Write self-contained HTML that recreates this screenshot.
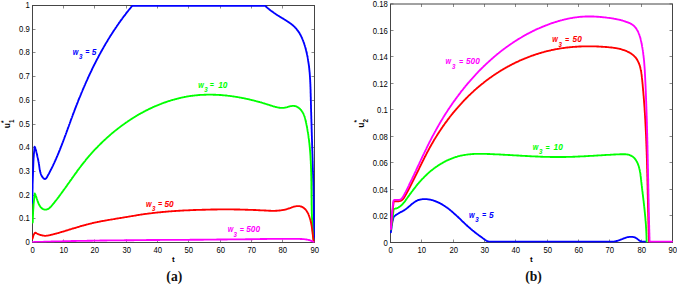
<!DOCTYPE html><html><head><meta charset="utf-8"><style>
html,body{margin:0;padding:0;background:#fff;}
body{width:677px;height:284px;overflow:hidden;}
svg{display:block;}
.tk{font-family:"Liberation Sans",sans-serif;font-size:8.20px;fill:#000;}
.cl{font-family:"Liberation Sans",sans-serif;font-size:7.60px;font-weight:bold;font-style:italic;}
.ax{font-family:"Liberation Sans",sans-serif;font-weight:bold;fill:#000;}
.pl{font-family:"Liberation Serif",serif;font-weight:bold;font-size:13.6px;fill:#111;}
</style></head><body>
<svg width="677" height="284" viewBox="0 0 677 284">
<rect width="677" height="284" fill="#fff"/>
<line x1="32.50" y1="242.50" x2="32.50" y2="239.50" stroke="#8a8a8a" stroke-width="1"/>
<line x1="32.50" y1="5.50" x2="32.50" y2="8.50" stroke="#8a8a8a" stroke-width="1"/>
<text transform="translate(32.70,253.00) scale(0.940,1)" text-anchor="middle" class="tk">0</text>
<line x1="63.50" y1="242.50" x2="63.50" y2="239.50" stroke="#8a8a8a" stroke-width="1"/>
<line x1="63.50" y1="5.50" x2="63.50" y2="8.50" stroke="#8a8a8a" stroke-width="1"/>
<text transform="translate(63.70,253.00) scale(0.940,1)" text-anchor="middle" class="tk">10</text>
<line x1="94.50" y1="242.50" x2="94.50" y2="239.50" stroke="#8a8a8a" stroke-width="1"/>
<line x1="94.50" y1="5.50" x2="94.50" y2="8.50" stroke="#8a8a8a" stroke-width="1"/>
<text transform="translate(94.70,253.00) scale(0.940,1)" text-anchor="middle" class="tk">20</text>
<line x1="126.50" y1="242.50" x2="126.50" y2="239.50" stroke="#8a8a8a" stroke-width="1"/>
<line x1="126.50" y1="5.50" x2="126.50" y2="8.50" stroke="#8a8a8a" stroke-width="1"/>
<text transform="translate(126.70,253.00) scale(0.940,1)" text-anchor="middle" class="tk">30</text>
<line x1="157.50" y1="242.50" x2="157.50" y2="239.50" stroke="#8a8a8a" stroke-width="1"/>
<line x1="157.50" y1="5.50" x2="157.50" y2="8.50" stroke="#8a8a8a" stroke-width="1"/>
<text transform="translate(157.70,253.00) scale(0.940,1)" text-anchor="middle" class="tk">40</text>
<line x1="188.50" y1="242.50" x2="188.50" y2="239.50" stroke="#8a8a8a" stroke-width="1"/>
<line x1="188.50" y1="5.50" x2="188.50" y2="8.50" stroke="#8a8a8a" stroke-width="1"/>
<text transform="translate(188.70,253.00) scale(0.940,1)" text-anchor="middle" class="tk">50</text>
<line x1="220.50" y1="242.50" x2="220.50" y2="239.50" stroke="#8a8a8a" stroke-width="1"/>
<line x1="220.50" y1="5.50" x2="220.50" y2="8.50" stroke="#8a8a8a" stroke-width="1"/>
<text transform="translate(220.70,253.00) scale(0.940,1)" text-anchor="middle" class="tk">60</text>
<line x1="251.50" y1="242.50" x2="251.50" y2="239.50" stroke="#8a8a8a" stroke-width="1"/>
<line x1="251.50" y1="5.50" x2="251.50" y2="8.50" stroke="#8a8a8a" stroke-width="1"/>
<text transform="translate(251.70,253.00) scale(0.940,1)" text-anchor="middle" class="tk">70</text>
<line x1="282.50" y1="242.50" x2="282.50" y2="239.50" stroke="#8a8a8a" stroke-width="1"/>
<line x1="282.50" y1="5.50" x2="282.50" y2="8.50" stroke="#8a8a8a" stroke-width="1"/>
<text transform="translate(282.70,253.00) scale(0.940,1)" text-anchor="middle" class="tk">80</text>
<line x1="314.50" y1="242.50" x2="314.50" y2="239.50" stroke="#8a8a8a" stroke-width="1"/>
<line x1="314.50" y1="5.50" x2="314.50" y2="8.50" stroke="#8a8a8a" stroke-width="1"/>
<text transform="translate(314.70,253.00) scale(0.940,1)" text-anchor="middle" class="tk">90</text>
<line x1="32.50" y1="242.50" x2="35.50" y2="242.50" stroke="#8a8a8a" stroke-width="1"/>
<line x1="314.50" y1="242.50" x2="311.50" y2="242.50" stroke="#8a8a8a" stroke-width="1"/>
<text transform="translate(29.80,244.70) scale(0.940,1)" text-anchor="end" class="tk">0</text>
<line x1="32.50" y1="218.50" x2="35.50" y2="218.50" stroke="#8a8a8a" stroke-width="1"/>
<line x1="314.50" y1="218.50" x2="311.50" y2="218.50" stroke="#8a8a8a" stroke-width="1"/>
<text transform="translate(29.80,220.70) scale(0.940,1)" text-anchor="end" class="tk">0.1</text>
<line x1="32.50" y1="195.50" x2="35.50" y2="195.50" stroke="#8a8a8a" stroke-width="1"/>
<line x1="314.50" y1="195.50" x2="311.50" y2="195.50" stroke="#8a8a8a" stroke-width="1"/>
<text transform="translate(29.80,197.70) scale(0.940,1)" text-anchor="end" class="tk">0.2</text>
<line x1="32.50" y1="171.50" x2="35.50" y2="171.50" stroke="#8a8a8a" stroke-width="1"/>
<line x1="314.50" y1="171.50" x2="311.50" y2="171.50" stroke="#8a8a8a" stroke-width="1"/>
<text transform="translate(29.80,173.70) scale(0.940,1)" text-anchor="end" class="tk">0.3</text>
<line x1="32.50" y1="147.50" x2="35.50" y2="147.50" stroke="#8a8a8a" stroke-width="1"/>
<line x1="314.50" y1="147.50" x2="311.50" y2="147.50" stroke="#8a8a8a" stroke-width="1"/>
<text transform="translate(29.80,149.70) scale(0.940,1)" text-anchor="end" class="tk">0.4</text>
<line x1="32.50" y1="124.50" x2="35.50" y2="124.50" stroke="#8a8a8a" stroke-width="1"/>
<line x1="314.50" y1="124.50" x2="311.50" y2="124.50" stroke="#8a8a8a" stroke-width="1"/>
<text transform="translate(29.80,126.70) scale(0.940,1)" text-anchor="end" class="tk">0.5</text>
<line x1="32.50" y1="100.50" x2="35.50" y2="100.50" stroke="#8a8a8a" stroke-width="1"/>
<line x1="314.50" y1="100.50" x2="311.50" y2="100.50" stroke="#8a8a8a" stroke-width="1"/>
<text transform="translate(29.80,102.70) scale(0.940,1)" text-anchor="end" class="tk">0.6</text>
<line x1="32.50" y1="76.50" x2="35.50" y2="76.50" stroke="#8a8a8a" stroke-width="1"/>
<line x1="314.50" y1="76.50" x2="311.50" y2="76.50" stroke="#8a8a8a" stroke-width="1"/>
<text transform="translate(29.80,78.70) scale(0.940,1)" text-anchor="end" class="tk">0.7</text>
<line x1="32.50" y1="52.50" x2="35.50" y2="52.50" stroke="#8a8a8a" stroke-width="1"/>
<line x1="314.50" y1="52.50" x2="311.50" y2="52.50" stroke="#8a8a8a" stroke-width="1"/>
<text transform="translate(29.80,54.70) scale(0.940,1)" text-anchor="end" class="tk">0.8</text>
<line x1="32.50" y1="29.50" x2="35.50" y2="29.50" stroke="#8a8a8a" stroke-width="1"/>
<line x1="314.50" y1="29.50" x2="311.50" y2="29.50" stroke="#8a8a8a" stroke-width="1"/>
<text transform="translate(29.80,31.70) scale(0.940,1)" text-anchor="end" class="tk">0.9</text>
<line x1="32.50" y1="5.50" x2="35.50" y2="5.50" stroke="#8a8a8a" stroke-width="1"/>
<line x1="314.50" y1="5.50" x2="311.50" y2="5.50" stroke="#8a8a8a" stroke-width="1"/>
<text transform="translate(29.80,7.70) scale(0.940,1)" text-anchor="end" class="tk">1</text>
<line x1="32.50" y1="5.50" x2="32.50" y2="243.00" stroke="#454545" stroke-width="1"/>
<line x1="314.50" y1="5.50" x2="314.50" y2="243.00" stroke="#454545" stroke-width="1"/>
<line x1="32.00" y1="5.50" x2="315.00" y2="5.50" stroke="#454545" stroke-width="1"/>
<line x1="32.00" y1="242.50" x2="315.00" y2="242.50" stroke="#454545" stroke-width="1"/>
<line x1="390.50" y1="242.50" x2="390.50" y2="239.50" stroke="#8a8a8a" stroke-width="1"/>
<line x1="390.50" y1="4.00" x2="390.50" y2="7.00" stroke="#8a8a8a" stroke-width="1"/>
<text transform="translate(390.70,253.00) scale(0.940,1)" text-anchor="middle" class="tk">0</text>
<line x1="421.50" y1="242.50" x2="421.50" y2="239.50" stroke="#8a8a8a" stroke-width="1"/>
<line x1="421.50" y1="4.00" x2="421.50" y2="7.00" stroke="#8a8a8a" stroke-width="1"/>
<text transform="translate(421.70,253.00) scale(0.940,1)" text-anchor="middle" class="tk">10</text>
<line x1="453.50" y1="242.50" x2="453.50" y2="239.50" stroke="#8a8a8a" stroke-width="1"/>
<line x1="453.50" y1="4.00" x2="453.50" y2="7.00" stroke="#8a8a8a" stroke-width="1"/>
<text transform="translate(453.70,253.00) scale(0.940,1)" text-anchor="middle" class="tk">20</text>
<line x1="484.50" y1="242.50" x2="484.50" y2="239.50" stroke="#8a8a8a" stroke-width="1"/>
<line x1="484.50" y1="4.00" x2="484.50" y2="7.00" stroke="#8a8a8a" stroke-width="1"/>
<text transform="translate(484.70,253.00) scale(0.940,1)" text-anchor="middle" class="tk">30</text>
<line x1="515.50" y1="242.50" x2="515.50" y2="239.50" stroke="#8a8a8a" stroke-width="1"/>
<line x1="515.50" y1="4.00" x2="515.50" y2="7.00" stroke="#8a8a8a" stroke-width="1"/>
<text transform="translate(515.70,253.00) scale(0.940,1)" text-anchor="middle" class="tk">40</text>
<line x1="547.50" y1="242.50" x2="547.50" y2="239.50" stroke="#8a8a8a" stroke-width="1"/>
<line x1="547.50" y1="4.00" x2="547.50" y2="7.00" stroke="#8a8a8a" stroke-width="1"/>
<text transform="translate(547.70,253.00) scale(0.940,1)" text-anchor="middle" class="tk">50</text>
<line x1="578.50" y1="242.50" x2="578.50" y2="239.50" stroke="#8a8a8a" stroke-width="1"/>
<line x1="578.50" y1="4.00" x2="578.50" y2="7.00" stroke="#8a8a8a" stroke-width="1"/>
<text transform="translate(578.70,253.00) scale(0.940,1)" text-anchor="middle" class="tk">60</text>
<line x1="609.50" y1="242.50" x2="609.50" y2="239.50" stroke="#8a8a8a" stroke-width="1"/>
<line x1="609.50" y1="4.00" x2="609.50" y2="7.00" stroke="#8a8a8a" stroke-width="1"/>
<text transform="translate(609.70,253.00) scale(0.940,1)" text-anchor="middle" class="tk">70</text>
<line x1="641.50" y1="242.50" x2="641.50" y2="239.50" stroke="#8a8a8a" stroke-width="1"/>
<line x1="641.50" y1="4.00" x2="641.50" y2="7.00" stroke="#8a8a8a" stroke-width="1"/>
<text transform="translate(641.70,253.00) scale(0.940,1)" text-anchor="middle" class="tk">80</text>
<line x1="672.50" y1="242.50" x2="672.50" y2="239.50" stroke="#8a8a8a" stroke-width="1"/>
<line x1="672.50" y1="4.00" x2="672.50" y2="7.00" stroke="#8a8a8a" stroke-width="1"/>
<text transform="translate(672.70,253.00) scale(0.940,1)" text-anchor="middle" class="tk">90</text>
<line x1="390.50" y1="242.50" x2="393.50" y2="242.50" stroke="#8a8a8a" stroke-width="1"/>
<line x1="672.50" y1="242.50" x2="669.50" y2="242.50" stroke="#8a8a8a" stroke-width="1"/>
<text transform="translate(387.80,245.50) scale(0.940,1)" text-anchor="end" class="tk">0</text>
<line x1="390.50" y1="215.50" x2="393.50" y2="215.50" stroke="#8a8a8a" stroke-width="1"/>
<line x1="672.50" y1="215.50" x2="669.50" y2="215.50" stroke="#8a8a8a" stroke-width="1"/>
<text transform="translate(387.80,218.50) scale(0.940,1)" text-anchor="end" class="tk">0.02</text>
<line x1="390.50" y1="189.50" x2="393.50" y2="189.50" stroke="#8a8a8a" stroke-width="1"/>
<line x1="672.50" y1="189.50" x2="669.50" y2="189.50" stroke="#8a8a8a" stroke-width="1"/>
<text transform="translate(387.80,192.50) scale(0.940,1)" text-anchor="end" class="tk">0.04</text>
<line x1="390.50" y1="162.50" x2="393.50" y2="162.50" stroke="#8a8a8a" stroke-width="1"/>
<line x1="672.50" y1="162.50" x2="669.50" y2="162.50" stroke="#8a8a8a" stroke-width="1"/>
<text transform="translate(387.80,165.50) scale(0.940,1)" text-anchor="end" class="tk">0.06</text>
<line x1="390.50" y1="136.50" x2="393.50" y2="136.50" stroke="#8a8a8a" stroke-width="1"/>
<line x1="672.50" y1="136.50" x2="669.50" y2="136.50" stroke="#8a8a8a" stroke-width="1"/>
<text transform="translate(387.80,139.50) scale(0.940,1)" text-anchor="end" class="tk">0.08</text>
<line x1="390.50" y1="109.50" x2="393.50" y2="109.50" stroke="#8a8a8a" stroke-width="1"/>
<line x1="672.50" y1="109.50" x2="669.50" y2="109.50" stroke="#8a8a8a" stroke-width="1"/>
<text transform="translate(387.80,112.50) scale(0.940,1)" text-anchor="end" class="tk">0.1</text>
<line x1="390.50" y1="83.50" x2="393.50" y2="83.50" stroke="#8a8a8a" stroke-width="1"/>
<line x1="672.50" y1="83.50" x2="669.50" y2="83.50" stroke="#8a8a8a" stroke-width="1"/>
<text transform="translate(387.80,86.50) scale(0.940,1)" text-anchor="end" class="tk">0.12</text>
<line x1="390.50" y1="56.50" x2="393.50" y2="56.50" stroke="#8a8a8a" stroke-width="1"/>
<line x1="672.50" y1="56.50" x2="669.50" y2="56.50" stroke="#8a8a8a" stroke-width="1"/>
<text transform="translate(387.80,59.50) scale(0.940,1)" text-anchor="end" class="tk">0.14</text>
<line x1="390.50" y1="30.50" x2="393.50" y2="30.50" stroke="#8a8a8a" stroke-width="1"/>
<line x1="672.50" y1="30.50" x2="669.50" y2="30.50" stroke="#8a8a8a" stroke-width="1"/>
<text transform="translate(387.80,33.50) scale(0.940,1)" text-anchor="end" class="tk">0.16</text>
<line x1="390.50" y1="3.90" x2="393.50" y2="3.90" stroke="#8a8a8a" stroke-width="1"/>
<line x1="672.50" y1="3.90" x2="669.50" y2="3.90" stroke="#8a8a8a" stroke-width="1"/>
<text transform="translate(387.80,6.90) scale(0.940,1)" text-anchor="end" class="tk">0.18</text>
<line x1="390.50" y1="4.00" x2="390.50" y2="243.00" stroke="#454545" stroke-width="1"/>
<line x1="672.50" y1="4.00" x2="672.50" y2="243.00" stroke="#454545" stroke-width="1"/>
<line x1="390.00" y1="4.00" x2="673.00" y2="4.00" stroke="#454545" stroke-width="1"/>
<line x1="390.00" y1="242.50" x2="673.00" y2="242.50" stroke="#454545" stroke-width="1"/>
<defs><clipPath id="cl"><rect x="32" y="5" width="283" height="237.5"/></clipPath><clipPath id="cr"><rect x="390" y="4" width="283" height="238.5"/></clipPath></defs>
<g clip-path="url(#cl)">
<path d="M32.3,203.0 L32.3,201.4 L32.4,199.2 L32.4,196.7 L32.5,193.9 L32.5,190.9 L32.6,187.8 L32.6,184.8 L32.7,182.0 L32.8,179.2 L32.9,176.4 L33.0,173.4 L33.1,170.5 L33.2,167.7 L33.3,164.9 L33.4,162.3 L33.5,160.0 L33.6,157.8 L33.8,155.7 L33.9,153.8 L34.1,151.9 L34.3,150.3 L34.4,148.8 L34.5,147.6 L34.6,146.6 L34.9,147.2 L35.2,147.8 L35.4,148.4 L35.6,149.1 L35.8,149.7 L36.0,150.4 L36.2,151.0 L36.3,151.7 L36.5,152.3 L36.6,153.0 L36.8,153.6 L36.9,154.3 L37.1,154.9 L37.2,155.5 L37.3,156.2 L37.5,156.8 L37.6,157.4 L37.8,158.1 L37.9,158.7 L38.0,159.3 L38.2,159.9 L38.3,160.6 L38.4,161.2 L38.6,161.9 L38.7,162.5 L38.8,163.2 L38.9,163.9 L39.0,164.5 L39.1,165.2 L39.2,165.9 L39.3,166.7 L39.4,167.4 L39.5,168.1 L39.6,168.9 L39.7,169.6 L39.9,170.4 L40.0,171.1 L40.2,171.8 L40.4,172.6 L40.6,173.3 L40.8,174.0 L41.1,174.7 L41.4,175.3 L41.7,176.0 L42.1,176.6 L42.5,177.2 L42.9,177.7 L43.4,178.2 L43.9,178.6 L44.4,178.9 L44.9,179.0 L45.4,178.9 L45.8,178.7 L46.1,178.4 L46.5,177.9 L46.8,177.3 L47.2,176.8 L47.5,176.2 L47.8,175.6 L48.1,175.0 L48.4,174.5 L48.8,173.9 L49.1,173.3 L49.4,172.7 L49.7,172.1 L50.0,171.5 L50.3,170.9 L50.6,170.3 L50.9,169.8 L51.2,169.2 L51.5,168.6 L51.8,168.0 L52.1,167.4 L52.4,166.8 L52.7,166.2 L53.0,165.6 L53.2,165.0 L53.5,164.4 L53.8,163.8 L54.1,163.2 L54.4,162.6 L54.6,162.0 L54.9,161.4 L55.2,160.8 L55.5,160.2 L55.7,159.6 L56.0,159.0 L56.3,158.3 L56.5,157.7 L56.8,157.1 L57.1,156.5 L57.3,155.9 L57.6,155.3 L57.8,154.7 L58.1,154.1 L58.4,153.5 L58.6,152.8 L58.9,152.2 L59.1,151.6 L59.4,151.0 L59.6,150.4 L59.9,149.8 L60.1,149.1 L60.4,148.5 L60.6,147.9 L60.8,147.3 L61.1,146.7 L61.3,146.0 L61.6,145.4 L61.8,144.8 L62.1,144.2 L62.3,143.5 L62.5,142.9 L62.8,142.3 L63.0,141.7 L63.2,141.1 L63.5,140.4 L63.7,139.8 L63.9,139.2 L64.2,138.6 L64.4,137.9 L64.6,137.3 L64.9,136.7 L65.1,136.0 L65.3,135.4 L65.6,134.8 L65.8,134.2 L66.0,133.5 L66.3,132.9 L66.5,132.3 L66.7,131.6 L67.0,131.0 L67.2,130.4 L67.4,129.8 L67.6,129.1 L67.9,128.5 L68.1,127.9 L68.3,127.2 L68.6,126.6 L68.8,126.0 L69.0,125.3 L69.2,124.7 L69.5,124.1 L69.7,123.5 L69.9,122.8 L70.2,122.2 L70.4,121.6 L70.6,120.9 L70.8,120.3 L71.1,119.7 L71.3,119.0 L71.5,118.4 L71.8,117.8 L72.0,117.2 L72.2,116.5 L72.5,115.9 L72.7,115.3 L72.9,114.6 L73.2,114.0 L73.4,113.4 L73.6,112.8 L73.9,112.1 L74.1,111.5 L74.4,110.9 L74.6,110.2 L74.8,109.6 L75.1,109.0 L75.3,108.4 L75.6,107.7 L75.8,107.1 L76.0,106.5 L76.3,105.9 L76.5,105.2 L76.8,104.6 L77.0,104.0 L77.3,103.4 L77.5,102.7 L77.8,102.1 L78.0,101.5 L78.2,100.9 L78.5,100.2 L78.7,99.6 L79.0,99.0 L79.2,98.4 L79.5,97.7 L79.8,97.1 L80.0,96.5 L80.3,95.9 L80.5,95.3 L80.8,94.6 L81.0,94.0 L81.3,93.4 L81.5,92.8 L81.8,92.2 L82.1,91.5 L82.3,90.9 L82.6,90.3 L82.8,89.7 L83.1,89.1 L83.4,88.5 L83.6,87.8 L83.9,87.2 L84.2,86.6 L84.4,86.0 L84.7,85.4 L85.0,84.8 L85.2,84.2 L85.5,83.5 L85.8,82.9 L86.0,82.3 L86.3,81.7 L86.6,81.1 L86.9,80.5 L87.1,79.9 L87.4,79.3 L87.7,78.6 L88.0,78.0 L88.2,77.4 L88.5,76.8 L88.8,76.2 L89.1,75.6 L89.4,75.0 L89.6,74.4 L89.9,73.8 L90.2,73.2 L90.5,72.6 L90.8,72.0 L91.1,71.4 L91.4,70.8 L91.7,70.2 L91.9,69.6 L92.2,69.0 L92.5,68.3 L92.8,67.7 L93.1,67.1 L93.4,66.5 L93.7,65.9 L94.0,65.3 L94.3,64.8 L94.6,64.2 L94.9,63.6 L95.2,63.0 L95.5,62.4 L95.8,61.8 L96.1,61.2 L96.4,60.6 L96.7,60.0 L97.0,59.4 L97.3,58.8 L97.7,58.2 L98.0,57.6 L98.3,57.0 L98.6,56.4 L98.9,55.8 L99.2,55.3 L99.5,54.7 L99.8,54.1 L100.2,53.5 L100.5,52.9 L100.8,52.3 L101.1,51.7 L101.5,51.2 L101.8,50.6 L102.1,50.0 L102.4,49.4 L102.8,48.8 L103.1,48.2 L103.4,47.7 L103.7,47.1 L104.1,46.5 L104.4,45.9 L104.7,45.3 L105.1,44.8 L105.4,44.2 L105.7,43.6 L106.1,43.0 L106.4,42.5 L106.8,41.9 L107.1,41.3 L107.5,40.8 L107.8,40.2 L108.1,39.6 L108.5,39.0 L108.8,38.5 L109.2,37.9 L109.5,37.3 L109.9,36.8 L110.2,36.2 L110.6,35.6 L111.0,35.1 L111.3,34.5 L111.7,33.9 L112.0,33.4 L112.4,32.8 L112.8,32.3 L113.1,31.7 L113.5,31.1 L113.9,30.6 L114.2,30.0 L114.6,29.5 L115.0,28.9 L115.3,28.4 L115.7,27.8 L116.1,27.3 L116.5,26.7 L116.8,26.2 L117.2,25.6 L117.6,25.1 L118.0,24.5 L118.4,24.0 L118.7,23.4 L119.1,22.9 L119.5,22.3 L119.9,21.8 L120.3,21.2 L120.7,20.7 L121.1,20.2 L121.5,19.6 L121.9,19.1 L122.3,18.5 L122.6,18.0 L123.0,17.5 L123.4,16.9 L123.8,16.4 L124.3,15.9 L124.7,15.3 L125.1,14.8 L125.5,14.3 L125.9,13.7 L126.3,13.2 L126.7,12.7 L127.1,12.1 L127.5,11.6 L127.9,11.1 L128.4,10.6 L128.8,10.0 L129.2,9.5 L129.6,9.0 L130.1,8.5 L130.5,8.0 L130.9,7.4 L131.3,6.9 L131.8,6.4 L132.2,5.9 L265.2,5.9 L265.7,6.3 L266.2,6.8 L266.7,7.2 L267.2,7.7 L267.7,8.1 L268.2,8.5 L268.7,8.9 L269.2,9.3 L269.7,9.8 L270.3,10.2 L270.8,10.6 L271.3,11.0 L271.9,11.3 L272.4,11.7 L272.9,12.1 L273.5,12.5 L274.0,12.9 L274.6,13.3 L275.1,13.6 L275.7,14.0 L276.2,14.4 L276.8,14.8 L277.4,15.1 L277.9,15.5 L278.5,15.8 L279.1,16.2 L279.7,16.6 L280.2,16.9 L280.8,17.3 L281.4,17.7 L282.0,18.0 L282.6,18.4 L283.2,18.7 L283.8,19.1 L284.4,19.5 L284.9,19.8 L285.5,20.2 L286.1,20.5 L286.7,20.9 L287.3,21.3 L287.9,21.7 L288.4,22.1 L289.0,22.4 L289.6,22.8 L290.1,23.2 L290.7,23.6 L291.2,24.0 L291.8,24.5 L292.3,24.9 L292.8,25.3 L293.3,25.7 L293.8,26.2 L294.3,26.6 L294.8,27.1 L295.2,27.6 L295.7,28.1 L296.1,28.5 L296.5,29.0 L296.9,29.6 L297.3,30.1 L297.7,30.6 L298.1,31.1 L298.5,31.7 L298.8,32.2 L299.2,32.7 L299.5,33.3 L299.9,33.9 L300.2,34.4 L300.5,35.0 L300.8,35.6 L301.1,36.2 L301.4,36.8 L301.7,37.4 L302.0,38.0 L302.2,38.6 L302.5,39.2 L302.7,39.8 L303.0,40.4 L303.2,41.0 L303.4,41.6 L303.7,42.3 L303.9,42.9 L304.1,43.5 L304.3,44.1 L304.5,44.8 L304.7,45.4 L304.9,46.0 L305.1,46.7 L305.3,47.3 L305.5,48.0 L305.6,48.6 L305.8,49.2 L306.0,49.9 L306.1,50.5 L306.3,51.2 L306.4,51.8 L306.6,52.5 L306.7,53.1 L306.9,53.8 L307.0,54.4 L307.2,55.1 L307.3,55.7 L307.4,56.4 L307.6,57.0 L307.7,57.7 L307.8,58.3 L307.9,59.0 L308.0,59.6 L308.1,60.3 L308.2,61.0 L308.3,61.6 L308.4,62.3 L308.5,62.9 L308.6,63.6 L308.7,64.2 L308.8,64.9 L308.9,65.6 L309.0,66.2 L309.1,66.9 L309.1,67.6 L309.2,68.2 L309.3,68.9 L309.3,69.5 L309.4,70.2 L309.5,70.9 L309.5,71.5 L309.6,72.2 L309.7,72.9 L309.7,73.5 L309.8,74.2 L309.8,74.9 L309.9,75.6 L309.9,76.2 L310.0,76.9 L310.0,77.6 L310.0,78.2 L310.1,78.9 L310.1,79.6 L310.2,80.2 L310.2,80.9 L310.2,81.6 L310.3,82.3 L310.3,82.9 L310.3,83.6 L310.4,84.3 L310.4,85.0 L310.4,85.6 L310.4,86.3 L310.5,87.0 L310.5,87.6 L310.5,88.3 L310.5,89.0 L310.6,89.7 L310.6,90.3 L310.6,91.0 L310.6,91.7 L310.6,92.4 L310.6,93.0 L310.7,93.7 L310.7,94.4 L310.7,95.1 L310.7,95.7 L310.7,96.4 L310.8,97.1 L310.8,97.8 L310.8,98.4 L310.8,99.1 L310.8,99.8 L310.8,100.5 L310.9,101.1 L310.9,101.8 L310.9,102.5 L310.9,103.1 L310.9,103.8 L310.9,104.5 L311.0,105.2 L311.0,105.8 L311.0,106.5 L311.0,107.2 L311.0,107.8 L311.0,108.5 L311.1,109.2 L311.1,109.9 L311.1,110.5 L311.1,111.2 L311.1,111.9 L311.2,112.5 L311.2,113.2 L311.2,113.9 L311.2,114.6 L311.2,115.2 L311.3,115.9 L311.3,116.6 L311.3,117.2 L311.3,117.9 L311.3,118.6 L311.4,119.3 L311.4,119.9 L311.4,120.6 L311.4,121.3 L311.4,121.9 L311.5,122.6 L311.5,123.3 L311.5,123.9 L311.5,124.6 L311.5,125.3 L311.6,125.9 L311.6,126.6 L311.6,127.3 L311.6,128.0 L311.6,128.6 L311.7,129.3 L311.7,130.0 L311.7,130.6 L311.7,131.3 L311.7,132.0 L311.8,132.6 L311.8,133.3 L311.8,134.0 L311.8,134.6 L311.8,135.3 L311.9,136.0 L311.9,136.6 L311.9,137.3 L311.9,138.0 L311.9,138.6 L312.0,139.3 L312.0,140.0 L312.0,140.6 L312.0,141.3 L312.1,142.0 L312.1,142.6 L312.1,143.3 L312.1,144.0 L312.1,144.6 L312.2,145.3 L312.2,146.0 L312.2,146.6 L312.2,147.3 L312.2,148.0 L312.3,148.6 L312.3,149.3 L312.3,150.0 L312.3,150.6 L312.4,151.3 L312.4,152.0 L312.4,152.6 L312.4,153.3 L312.4,154.0 L312.5,154.6 L312.5,155.3 L312.5,156.0 L312.5,156.6 L312.5,157.3 L312.6,158.0 L312.6,158.6 L312.6,159.3 L312.6,160.0 L312.6,160.6 L312.7,161.3 L312.7,162.0 L312.7,162.6 L312.7,163.3 L312.7,164.0 L312.8,164.6 L312.8,165.3 L312.8,166.0 L312.8,166.6 L312.8,167.3 L312.9,168.0 L312.9,168.6 L312.9,169.3 L312.9,170.0 L312.9,170.6 L313.0,171.3 L313.0,172.0 L313.0,172.6 L313.0,173.3 L313.0,174.0 L313.1,174.6 L313.1,175.3 L313.1,175.9 L313.1,176.6 L313.1,177.3 L313.1,177.9 L313.2,178.6 L313.2,179.3 L313.2,179.9 L313.2,180.6 L313.2,181.3 L313.3,181.9 L313.3,182.6 L313.3,183.3 L313.3,183.9 L313.3,184.6 L313.3,185.3 L313.4,185.9 L313.4,186.6 L313.4,187.3 L313.4,187.9 L313.4,188.6 L313.4,189.3 L313.4,189.9 L313.5,190.6 L313.5,191.3 L313.5,191.9 L313.5,192.6 L313.5,193.3 L313.5,193.9 L313.6,194.6 L313.6,195.3 L313.6,195.9 L313.6,196.6 L313.6,197.3 L313.6,197.9 L313.6,198.6 L313.6,199.3 L313.7,199.9 L313.7,200.6 L313.7,201.3 L313.7,201.9 L313.7,202.6 L313.7,203.3 L313.7,203.9 L313.7,204.6 L313.8,205.3 L313.8,206.0 L313.8,206.6 L313.8,207.3 L313.8,208.0 L313.8,208.6 L313.8,209.3 L313.8,210.0 L313.8,210.6 L313.9,211.3 L313.9,212.0 L313.9,212.6 L313.9,213.3 L313.9,214.0 L313.9,214.6 L313.9,215.3 L313.9,216.0 L313.9,216.6 L313.9,217.3 L313.9,218.0 L313.9,218.7 L313.9,219.3 L314.0,220.0 L314.0,220.7 L314.0,221.3 L314.0,222.0 L314.0,222.7 L314.0,223.3 L314.0,224.0 L314.0,224.7 L314.0,225.4 L314.0,226.0 L314.0,226.7 L314.0,227.4 L314.0,228.0 L314.0,228.7 L314.0,229.4 L314.0,230.1 L314.0,230.7 L314.0,231.4 L314.0,232.1 L314.0,232.7 L314.0,233.4 L314.0,234.1 L314.0,234.8 L314.0,235.4 L314.0,236.1 L314.0,236.8 L314.0,237.5 L314.0,238.1 L314.0,238.8 L314.0,239.5 L314.0,240.2 L314.0,240.8 L314.0,241.5" fill="none" stroke="#0000ff" stroke-width="1.85" stroke-linejoin="round" stroke-linecap="round"/>
<path d="M32.7,222.5 L32.8,221.2 L32.8,219.4 L32.9,217.3 L33.0,215.0 L33.1,212.6 L33.2,210.2 L33.4,208.0 L33.5,206.0 L33.6,204.2 L33.8,202.3 L34.0,200.4 L34.2,198.7 L34.4,197.0 L34.6,195.6 L34.7,194.3 L34.8,193.4 L35.0,193.9 L35.3,194.4 L35.5,194.9 L35.7,195.5 L35.9,196.1 L36.2,196.7 L36.4,197.4 L36.6,198.1 L36.8,198.8 L37.1,199.5 L37.3,200.2 L37.6,201.0 L37.8,201.7 L38.1,202.4 L38.4,203.1 L38.7,203.8 L39.0,204.5 L39.3,205.1 L39.7,205.7 L40.1,206.3 L40.4,206.9 L40.9,207.4 L41.3,207.8 L41.8,208.2 L42.2,208.6 L42.7,208.9 L43.3,209.2 L43.8,209.4 L44.3,209.5 L44.9,209.6 L45.4,209.6 L45.9,209.6 L46.5,209.5 L47.0,209.4 L47.5,209.2 L48.1,209.0 L48.6,208.7 L49.1,208.3 L49.6,207.9 L50.0,207.5 L50.5,207.0 L51.0,206.6 L51.4,206.1 L51.9,205.5 L52.3,205.0 L52.8,204.4 L53.2,203.9 L53.7,203.4 L54.1,202.8 L54.5,202.3 L55.0,201.7 L55.4,201.2 L55.8,200.6 L56.3,200.1 L56.7,199.5 L57.1,199.0 L57.5,198.4 L58.0,197.9 L58.4,197.3 L58.8,196.8 L59.2,196.2 L59.6,195.7 L60.0,195.1 L60.4,194.6 L60.8,194.0 L61.2,193.5 L61.6,192.9 L62.0,192.4 L62.4,191.8 L62.8,191.3 L63.2,190.7 L63.6,190.2 L64.0,189.6 L64.4,189.1 L64.8,188.5 L65.2,188.0 L65.6,187.4 L66.0,186.9 L66.4,186.3 L66.8,185.8 L67.1,185.3 L67.5,184.7 L67.9,184.2 L68.3,183.6 L68.7,183.1 L69.1,182.5 L69.5,182.0 L69.8,181.4 L70.2,180.9 L70.6,180.4 L71.0,179.8 L71.4,179.3 L71.8,178.7 L72.1,178.2 L72.5,177.7 L72.9,177.1 L73.3,176.6 L73.7,176.0 L74.1,175.5 L74.4,175.0 L74.8,174.4 L75.2,173.9 L75.6,173.4 L76.0,172.8 L76.4,172.3 L76.8,171.8 L77.1,171.2 L77.5,170.7 L77.9,170.2 L78.3,169.6 L78.7,169.1 L79.1,168.6 L79.5,168.0 L79.9,167.5 L80.3,167.0 L80.7,166.5 L81.1,165.9 L81.5,165.4 L81.9,164.9 L82.3,164.4 L82.7,163.9 L83.1,163.3 L83.5,162.8 L83.9,162.3 L84.3,161.8 L84.8,161.3 L85.2,160.8 L85.6,160.2 L86.0,159.7 L86.4,159.2 L86.9,158.7 L87.3,158.2 L87.7,157.7 L88.1,157.2 L88.6,156.7 L89.0,156.2 L89.4,155.7 L89.9,155.2 L90.3,154.7 L90.8,154.2 L91.2,153.7 L91.6,153.2 L92.1,152.7 L92.5,152.2 L93.0,151.7 L93.4,151.2 L93.9,150.7 L94.3,150.2 L94.8,149.7 L95.3,149.2 L95.7,148.7 L96.2,148.3 L96.6,147.8 L97.1,147.3 L97.6,146.8 L98.0,146.3 L98.5,145.8 L99.0,145.4 L99.5,144.9 L99.9,144.4 L100.4,144.0 L100.9,143.5 L101.4,143.0 L101.9,142.5 L102.3,142.1 L102.8,141.6 L103.3,141.1 L103.8,140.7 L104.3,140.2 L104.8,139.8 L105.3,139.3 L105.8,138.9 L106.3,138.4 L106.8,137.9 L107.3,137.5 L107.8,137.0 L108.3,136.6 L108.8,136.2 L109.3,135.7 L109.8,135.3 L110.3,134.8 L110.8,134.4 L111.3,133.9 L111.8,133.5 L112.4,133.1 L112.9,132.6 L113.4,132.2 L113.9,131.8 L114.4,131.4 L115.0,130.9 L115.5,130.5 L116.0,130.1 L116.5,129.7 L117.1,129.3 L117.6,128.8 L118.1,128.4 L118.7,128.0 L119.2,127.6 L119.7,127.2 L120.3,126.8 L120.8,126.4 L121.3,126.0 L121.9,125.6 L122.4,125.2 L123.0,124.8 L123.5,124.4 L124.1,124.0 L124.6,123.6 L125.2,123.2 L125.7,122.8 L126.3,122.4 L126.8,122.1 L127.4,121.7 L127.9,121.3 L128.5,120.9 L129.0,120.6 L129.6,120.2 L130.2,119.8 L130.7,119.4 L131.3,119.1 L131.9,118.7 L132.4,118.4 L133.0,118.0 L133.6,117.6 L134.1,117.3 L134.7,116.9 L135.3,116.6 L135.9,116.2 L136.4,115.9 L137.0,115.5 L137.6,115.2 L138.2,114.9 L138.7,114.5 L139.3,114.2 L139.9,113.9 L140.5,113.5 L141.1,113.2 L141.7,112.9 L142.2,112.6 L142.8,112.3 L143.4,111.9 L144.0,111.6 L144.6,111.3 L145.2,111.0 L145.8,110.7 L146.4,110.4 L147.0,110.1 L147.6,109.8 L148.2,109.5 L148.8,109.2 L149.4,108.9 L150.0,108.6 L150.6,108.3 L151.2,108.0 L151.8,107.8 L152.4,107.5 L153.0,107.2 L153.6,106.9 L154.2,106.7 L154.8,106.4 L155.4,106.1 L156.0,105.9 L156.7,105.6 L157.3,105.3 L157.9,105.1 L158.5,104.8 L159.1,104.6 L159.7,104.3 L160.4,104.1 L161.0,103.9 L161.6,103.6 L162.2,103.4 L162.8,103.2 L163.5,102.9 L164.1,102.7 L164.7,102.5 L165.3,102.3 L166.0,102.0 L166.6,101.8 L167.2,101.6 L167.8,101.4 L168.5,101.2 L169.1,101.0 L169.7,100.8 L170.4,100.6 L171.0,100.4 L171.6,100.2 L172.3,100.0 L172.9,99.8 L173.5,99.7 L174.2,99.5 L174.8,99.3 L175.5,99.1 L176.1,99.0 L176.7,98.8 L177.4,98.6 L178.0,98.5 L178.7,98.3 L179.3,98.1 L179.9,98.0 L180.6,97.8 L181.2,97.7 L181.9,97.6 L182.5,97.4 L183.2,97.3 L183.8,97.2 L184.5,97.0 L185.1,96.9 L185.8,96.8 L186.4,96.7 L187.1,96.5 L187.7,96.4 L188.4,96.3 L189.0,96.2 L189.7,96.1 L190.3,96.0 L191.0,95.9 L191.7,95.8 L192.3,95.7 L193.0,95.7 L193.6,95.6 L194.3,95.5 L194.9,95.4 L195.6,95.3 L196.3,95.3 L196.9,95.2 L197.6,95.2 L198.2,95.1 L198.9,95.0 L199.6,95.0 L200.2,94.9 L200.9,94.9 L201.6,94.9 L202.2,94.8 L202.9,94.8 L203.6,94.8 L204.2,94.7 L204.9,94.7 L205.6,94.7 L206.2,94.7 L206.9,94.6 L207.6,94.6 L208.2,94.6 L208.9,94.6 L209.6,94.6 L210.2,94.6 L210.9,94.6 L211.6,94.6 L212.2,94.6 L212.9,94.7 L213.6,94.7 L214.2,94.7 L214.9,94.7 L215.6,94.7 L216.2,94.8 L216.9,94.8 L217.6,94.8 L218.3,94.9 L218.9,94.9 L219.6,95.0 L220.3,95.0 L220.9,95.0 L221.6,95.1 L222.3,95.2 L223.0,95.2 L223.6,95.3 L224.3,95.3 L225.0,95.4 L225.6,95.5 L226.3,95.5 L227.0,95.6 L227.6,95.7 L228.3,95.8 L229.0,95.8 L229.7,95.9 L230.3,96.0 L231.0,96.1 L231.7,96.2 L232.3,96.3 L233.0,96.4 L233.7,96.5 L234.3,96.6 L235.0,96.7 L235.7,96.8 L236.3,96.9 L237.0,97.0 L237.7,97.1 L238.3,97.2 L239.0,97.3 L239.7,97.5 L240.3,97.6 L241.0,97.7 L241.7,97.8 L242.3,98.0 L243.0,98.1 L243.6,98.2 L244.3,98.4 L245.0,98.5 L245.6,98.6 L246.3,98.8 L247.0,98.9 L247.6,99.1 L248.3,99.2 L248.9,99.4 L249.6,99.5 L250.2,99.7 L250.9,99.8 L251.6,100.0 L252.2,100.1 L252.9,100.3 L253.5,100.4 L254.2,100.6 L254.8,100.8 L255.5,100.9 L256.1,101.1 L256.8,101.3 L257.4,101.5 L258.1,101.6 L258.7,101.8 L259.4,102.0 L260.0,102.2 L260.7,102.4 L261.3,102.5 L261.9,102.7 L262.6,102.9 L263.2,103.1 L263.9,103.3 L264.5,103.5 L265.1,103.7 L265.8,103.9 L266.4,104.1 L267.1,104.3 L267.7,104.5 L268.3,104.7 L269.0,104.9 L269.6,105.1 L270.2,105.3 L270.8,105.5 L271.5,105.7 L272.1,105.9 L272.7,106.1 L273.4,106.3 L274.0,106.5 L274.6,106.7 L275.2,106.8 L275.9,107.0 L276.5,107.2 L277.1,107.3 L277.7,107.4 L278.4,107.6 L279.0,107.7 L279.6,107.7 L280.3,107.8 L280.9,107.9 L281.5,107.9 L282.1,107.9 L282.8,107.9 L283.4,107.9 L284.1,107.8 L284.7,107.7 L285.3,107.6 L286.0,107.4 L286.6,107.3 L287.3,107.1 L287.9,106.9 L288.6,106.7 L289.2,106.5 L289.8,106.4 L290.5,106.2 L291.1,106.1 L291.8,106.0 L292.4,105.9 L293.0,105.9 L293.7,105.9 L294.3,106.0 L294.9,106.1 L295.5,106.2 L296.1,106.4 L296.7,106.7 L297.3,107.0 L297.9,107.3 L298.4,107.6 L298.9,108.0 L299.5,108.5 L300.0,108.9 L300.4,109.4 L300.9,109.9 L301.3,110.4 L301.7,111.0 L302.1,111.6 L302.5,112.1 L302.8,112.7 L303.2,113.3 L303.5,113.9 L303.7,114.5 L304.0,115.2 L304.2,115.8 L304.5,116.4 L304.7,117.0 L304.9,117.7 L305.1,118.3 L305.2,119.0 L305.4,119.6 L305.5,120.3 L305.7,120.9 L305.8,121.6 L306.0,122.3 L306.1,122.9 L306.3,123.6 L306.4,124.2 L306.5,124.9 L306.7,125.6 L306.8,126.2 L306.9,126.9 L307.1,127.5 L307.2,128.2 L307.3,128.9 L307.4,129.5 L307.5,130.2 L307.6,130.8 L307.7,131.5 L307.9,132.2 L308.0,132.8 L308.1,133.5 L308.2,134.1 L308.3,134.8 L308.4,135.5 L308.5,136.1 L308.5,136.8 L308.6,137.5 L308.7,138.1 L308.8,138.8 L308.9,139.4 L309.0,140.1 L309.1,140.8 L309.1,141.4 L309.2,142.1 L309.3,142.8 L309.4,143.4 L309.4,144.1 L309.5,144.7 L309.6,145.4 L309.6,146.1 L309.7,146.7 L309.8,147.4 L309.8,148.1 L309.9,148.7 L309.9,149.4 L310.0,150.1 L310.1,150.7 L310.1,151.4 L310.2,152.1 L310.2,152.7 L310.3,153.4 L310.3,154.0 L310.4,154.7 L310.4,155.4 L310.5,156.0 L310.5,156.7 L310.5,157.4 L310.6,158.0 L310.6,158.7 L310.6,159.4 L310.7,160.0 L310.7,160.7 L310.8,161.4 L310.8,162.0 L310.8,162.7 L310.8,163.4 L310.9,164.0 L310.9,164.7 L310.9,165.4 L311.0,166.0 L311.0,166.7 L311.0,167.4 L311.0,168.0 L311.1,168.7 L311.1,169.4 L311.1,170.0 L311.1,170.7 L311.1,171.4 L311.2,172.0 L311.2,172.7 L311.2,173.4 L311.2,174.0 L311.2,174.7 L311.2,175.4 L311.3,176.0 L311.3,176.7 L311.3,177.4 L311.3,178.0 L311.3,178.7 L311.3,179.4 L311.3,180.1 L311.3,180.7 L311.4,181.4 L311.4,182.1 L311.4,182.7 L311.4,183.4 L311.4,184.1 L311.4,184.7 L311.4,185.4 L311.4,186.1 L311.4,186.7 L311.4,187.4 L311.4,188.1 L311.4,188.7 L311.5,189.4 L311.5,190.1 L311.5,190.7 L311.5,191.4 L311.5,192.1 L311.5,192.7 L311.5,193.4 L311.5,194.1 L311.5,194.8 L311.5,195.4 L311.5,196.1 L311.5,196.8 L311.5,197.4 L311.6,198.1 L311.6,198.8 L311.6,199.4 L311.6,200.1 L311.6,200.8 L311.6,201.4 L311.6,202.1 L311.6,202.8 L311.6,203.4 L311.6,204.1 L311.6,204.8 L311.7,205.5 L311.7,206.1 L311.7,206.8 L311.7,207.5 L311.7,208.1 L311.7,208.8 L311.7,209.5 L311.7,210.1 L311.8,210.8 L311.8,211.5 L311.8,212.1 L311.8,212.8 L311.8,213.5 L311.9,214.1 L311.9,214.8 L311.9,215.5 L311.9,216.1 L311.9,216.8 L312.0,217.5 L312.0,218.2 L312.0,218.8 L312.0,219.5 L312.1,220.2 L312.1,220.8 L312.1,221.5 L312.2,222.2 L312.2,222.8 L312.2,223.5 L312.3,224.2 L312.3,224.8 L312.3,225.5 L312.4,226.2 L312.4,226.8 L312.4,227.5 L312.5,228.2 L312.5,228.8 L312.6,229.5 L312.6,230.2 L312.7,230.8 L312.7,231.5 L312.8,232.2 L312.8,232.8 L312.9,233.5 L312.9,234.2 L313.0,234.8 L313.0,235.5 L313.1,236.2 L313.1,236.8 L313.2,237.5 L313.3,238.2 L313.3,238.8 L313.4,239.5 L313.5,240.2 L313.5,240.8 L313.6,241.5" fill="none" stroke="#00ff00" stroke-width="1.85" stroke-linejoin="round" stroke-linecap="round"/>
<path d="M32.5,238.8 L32.6,238.5 L32.7,238.1 L32.8,237.6 L33.0,237.1 L33.1,236.5 L33.3,235.9 L33.4,235.4 L33.6,235.0 L33.8,234.6 L34.0,234.2 L34.2,233.9 L34.4,233.6 L34.6,233.3 L34.8,233.0 L35.0,232.8 L35.1,232.6 L35.7,232.9 L36.3,233.2 L36.9,233.5 L37.6,233.8 L38.2,234.1 L38.8,234.3 L39.5,234.6 L40.1,234.8 L40.7,235.0 L41.4,235.2 L42.0,235.4 L42.7,235.5 L43.3,235.6 L44.0,235.7 L44.6,235.8 L45.3,235.8 L45.9,235.8 L46.5,235.7 L47.2,235.6 L47.8,235.6 L48.5,235.4 L49.1,235.3 L49.8,235.2 L50.4,235.0 L51.1,234.9 L51.7,234.7 L52.4,234.6 L53.0,234.4 L53.7,234.2 L54.3,234.0 L55.0,233.9 L55.6,233.7 L56.3,233.5 L56.9,233.3 L57.5,233.2 L58.2,233.0 L58.8,232.8 L59.5,232.6 L60.1,232.4 L60.8,232.2 L61.4,232.0 L62.0,231.8 L62.7,231.7 L63.3,231.5 L64.0,231.3 L64.6,231.1 L65.3,230.9 L65.9,230.7 L66.5,230.5 L67.2,230.3 L67.8,230.1 L68.5,229.9 L69.1,229.7 L69.7,229.5 L70.4,229.3 L71.0,229.1 L71.7,228.9 L72.3,228.7 L72.9,228.5 L73.6,228.3 L74.2,228.1 L74.9,228.0 L75.5,227.8 L76.1,227.6 L76.8,227.4 L77.4,227.2 L78.1,227.0 L78.7,226.8 L79.4,226.6 L80.0,226.4 L80.6,226.2 L81.3,226.0 L81.9,225.9 L82.6,225.7 L83.2,225.5 L83.9,225.3 L84.5,225.1 L85.1,225.0 L85.8,224.8 L86.4,224.6 L87.1,224.4 L87.7,224.3 L88.4,224.1 L89.0,223.9 L89.7,223.8 L90.3,223.6 L91.0,223.5 L91.6,223.3 L92.3,223.2 L92.9,223.0 L93.6,222.9 L94.2,222.7 L94.9,222.6 L95.5,222.4 L96.2,222.3 L96.8,222.2 L97.5,222.0 L98.1,221.9 L98.8,221.8 L99.4,221.6 L100.1,221.5 L100.8,221.4 L101.4,221.2 L102.1,221.1 L102.7,221.0 L103.4,220.9 L104.0,220.8 L104.7,220.6 L105.4,220.5 L106.0,220.4 L106.7,220.3 L107.3,220.2 L108.0,220.1 L108.6,219.9 L109.3,219.8 L110.0,219.7 L110.6,219.6 L111.3,219.5 L111.9,219.4 L112.6,219.3 L113.3,219.2 L113.9,219.1 L114.6,219.0 L115.2,218.8 L115.9,218.7 L116.6,218.6 L117.2,218.5 L117.9,218.4 L118.5,218.3 L119.2,218.2 L119.9,218.1 L120.5,218.0 L121.2,217.9 L121.8,217.8 L122.5,217.7 L123.2,217.6 L123.8,217.4 L124.5,217.3 L125.1,217.2 L125.8,217.1 L126.5,217.0 L127.1,216.9 L127.8,216.8 L128.4,216.7 L129.1,216.6 L129.8,216.4 L130.4,216.3 L131.1,216.2 L131.7,216.1 L132.4,216.0 L133.0,215.9 L133.7,215.8 L134.4,215.7 L135.0,215.6 L135.7,215.5 L136.3,215.3 L137.0,215.2 L137.7,215.1 L138.3,215.0 L139.0,214.9 L139.6,214.8 L140.3,214.7 L141.0,214.6 L141.6,214.5 L142.3,214.4 L143.0,214.3 L143.6,214.2 L144.3,214.1 L144.9,214.0 L145.6,213.9 L146.3,213.9 L146.9,213.8 L147.6,213.7 L148.3,213.6 L148.9,213.5 L149.6,213.4 L150.2,213.3 L150.9,213.3 L151.6,213.2 L152.2,213.1 L152.9,213.0 L153.6,212.9 L154.2,212.9 L154.9,212.8 L155.6,212.7 L156.2,212.6 L156.9,212.6 L157.5,212.5 L158.2,212.4 L158.9,212.4 L159.5,212.3 L160.2,212.2 L160.9,212.2 L161.5,212.1 L162.2,212.0 L162.9,212.0 L163.5,211.9 L164.2,211.8 L164.9,211.8 L165.5,211.7 L166.2,211.7 L166.9,211.6 L167.5,211.6 L168.2,211.5 L168.9,211.4 L169.5,211.4 L170.2,211.3 L170.9,211.3 L171.5,211.2 L172.2,211.2 L172.9,211.1 L173.5,211.1 L174.2,211.1 L174.9,211.0 L175.5,211.0 L176.2,210.9 L176.9,210.9 L177.6,210.8 L178.2,210.8 L178.9,210.7 L179.6,210.7 L180.2,210.7 L180.9,210.6 L181.6,210.6 L182.2,210.6 L182.9,210.5 L183.6,210.5 L184.2,210.4 L184.9,210.4 L185.6,210.4 L186.2,210.3 L186.9,210.3 L187.6,210.3 L188.2,210.3 L188.9,210.2 L189.6,210.2 L190.2,210.2 L190.9,210.1 L191.6,210.1 L192.2,210.1 L192.9,210.1 L193.6,210.0 L194.3,210.0 L194.9,210.0 L195.6,210.0 L196.3,209.9 L196.9,209.9 L197.6,209.9 L198.3,209.9 L198.9,209.8 L199.6,209.8 L200.3,209.8 L200.9,209.8 L201.6,209.8 L202.3,209.7 L202.9,209.7 L203.6,209.7 L204.3,209.7 L204.9,209.7 L205.6,209.7 L206.3,209.6 L206.9,209.6 L207.6,209.6 L208.3,209.6 L208.9,209.6 L209.6,209.6 L210.3,209.6 L210.9,209.5 L211.6,209.5 L212.3,209.5 L212.9,209.5 L213.6,209.5 L214.3,209.5 L214.9,209.5 L215.6,209.5 L216.3,209.5 L216.9,209.5 L217.6,209.4 L218.3,209.4 L218.9,209.4 L219.6,209.4 L220.3,209.4 L220.9,209.4 L221.6,209.4 L222.3,209.4 L222.9,209.4 L223.6,209.4 L224.3,209.4 L224.9,209.4 L225.6,209.4 L226.3,209.4 L226.9,209.4 L227.6,209.4 L228.3,209.4 L229.0,209.4 L229.6,209.4 L230.3,209.4 L231.0,209.4 L231.6,209.4 L232.3,209.4 L233.0,209.4 L233.6,209.4 L234.3,209.5 L235.0,209.5 L235.6,209.5 L236.3,209.5 L237.0,209.5 L237.6,209.5 L238.3,209.5 L239.0,209.5 L239.6,209.5 L240.3,209.6 L241.0,209.6 L241.7,209.6 L242.3,209.6 L243.0,209.6 L243.7,209.6 L244.3,209.6 L245.0,209.7 L245.7,209.7 L246.3,209.7 L247.0,209.7 L247.7,209.7 L248.4,209.8 L249.0,209.8 L249.7,209.8 L250.4,209.8 L251.0,209.9 L251.7,209.9 L252.4,209.9 L253.0,209.9 L253.7,210.0 L254.4,210.0 L255.1,210.0 L255.7,210.0 L256.4,210.1 L257.1,210.1 L257.8,210.1 L258.4,210.2 L259.1,210.2 L259.8,210.2 L260.4,210.3 L261.1,210.3 L261.8,210.3 L262.5,210.4 L263.1,210.4 L263.8,210.4 L264.5,210.5 L265.2,210.5 L265.8,210.5 L266.5,210.6 L267.2,210.6 L267.9,210.6 L268.5,210.7 L269.2,210.7 L269.9,210.7 L270.5,210.7 L271.2,210.8 L271.9,210.8 L272.5,210.8 L273.2,210.8 L273.9,210.8 L274.5,210.8 L275.2,210.8 L275.9,210.7 L276.5,210.7 L277.2,210.7 L277.8,210.6 L278.5,210.6 L279.2,210.5 L279.8,210.5 L280.5,210.4 L281.1,210.3 L281.7,210.2 L282.4,210.1 L283.0,210.0 L283.7,209.9 L284.3,209.8 L284.9,209.6 L285.6,209.5 L286.2,209.3 L286.8,209.1 L287.5,208.9 L288.1,208.7 L288.7,208.5 L289.3,208.3 L290.0,208.1 L290.6,207.8 L291.2,207.6 L291.9,207.3 L292.5,207.1 L293.2,206.9 L293.8,206.7 L294.5,206.6 L295.1,206.4 L295.8,206.3 L296.4,206.2 L297.1,206.1 L297.7,206.1 L298.4,206.1 L299.0,206.1 L299.7,206.2 L300.3,206.3 L300.9,206.5 L301.5,206.7 L302.1,207.0 L302.7,207.2 L303.2,207.6 L303.7,207.9 L304.3,208.3 L304.7,208.8 L305.2,209.2 L305.6,209.7 L306.1,210.2 L306.5,210.8 L306.8,211.3 L307.2,211.9 L307.5,212.5 L307.9,213.1 L308.2,213.7 L308.5,214.4 L308.7,215.0 L309.0,215.7 L309.2,216.3 L309.5,217.0 L309.7,217.7 L309.9,218.3 L310.1,219.0 L310.3,219.6 L310.5,220.3 L310.6,221.0 L310.8,221.6 L310.9,222.3 L311.1,222.9 L311.2,223.6 L311.3,224.2 L311.5,224.9 L311.6,225.5 L311.7,226.2 L311.8,226.8 L311.9,227.5 L312.0,228.1 L312.1,228.8 L312.2,229.4 L312.2,230.1 L312.3,230.7 L312.4,231.4 L312.5,232.0 L312.6,232.7 L312.6,233.3 L312.7,234.0 L312.8,234.7 L312.9,235.3 L312.9,236.0 L313.0,236.6 L313.1,237.3 L313.2,238.0 L313.3,238.6 L313.4,239.3 L313.5,240.0 L313.6,240.6 L313.7,241.3 L313.8,242.0" fill="none" stroke="#ff0000" stroke-width="1.85" stroke-linejoin="round" stroke-linecap="round"/>
<path d="M32.5,242.1 L33.2,242.1 L33.8,242.1 L34.5,242.0 L35.2,242.0 L35.8,242.0 L36.5,242.0 L37.2,241.9 L37.9,241.9 L38.5,241.9 L39.2,241.9 L39.9,241.9 L40.5,241.8 L41.2,241.8 L41.9,241.8 L42.5,241.8 L43.2,241.8 L43.9,241.7 L44.5,241.7 L45.2,241.7 L45.9,241.7 L46.5,241.7 L47.2,241.6 L47.9,241.6 L48.6,241.6 L49.2,241.6 L49.9,241.6 L50.6,241.6 L51.2,241.5 L51.9,241.5 L52.6,241.5 L53.2,241.5 L53.9,241.5 L54.6,241.4 L55.2,241.4 L55.9,241.4 L56.6,241.4 L57.2,241.4 L57.9,241.4 L58.6,241.3 L59.3,241.3 L59.9,241.3 L60.6,241.3 L61.3,241.3 L61.9,241.3 L62.6,241.2 L63.3,241.2 L63.9,241.2 L64.6,241.2 L65.3,241.2 L65.9,241.2 L66.6,241.2 L67.3,241.1 L67.9,241.1 L68.6,241.1 L69.3,241.1 L69.9,241.1 L70.6,241.1 L71.3,241.0 L72.0,241.0 L72.6,241.0 L73.3,241.0 L74.0,241.0 L74.6,241.0 L75.3,241.0 L76.0,241.0 L76.6,240.9 L77.3,240.9 L78.0,240.9 L78.6,240.9 L79.3,240.9 L80.0,240.9 L80.6,240.9 L81.3,240.9 L82.0,240.8 L82.6,240.8 L83.3,240.8 L84.0,240.8 L84.7,240.8 L85.3,240.8 L86.0,240.8 L86.7,240.8 L87.3,240.7 L88.0,240.7 L88.7,240.7 L89.3,240.7 L90.0,240.7 L90.7,240.7 L91.3,240.7 L92.0,240.7 L92.7,240.7 L93.3,240.6 L94.0,240.6 L94.7,240.6 L95.3,240.6 L96.0,240.6 L96.7,240.6 L97.3,240.6 L98.0,240.6 L98.7,240.6 L99.3,240.6 L100.0,240.5 L100.7,240.5 L101.4,240.5 L102.0,240.5 L102.7,240.5 L103.4,240.5 L104.0,240.5 L104.7,240.5 L105.4,240.5 L106.0,240.5 L106.7,240.5 L107.4,240.4 L108.0,240.4 L108.7,240.4 L109.4,240.4 L110.0,240.4 L110.7,240.4 L111.4,240.4 L112.0,240.4 L112.7,240.4 L113.4,240.4 L114.0,240.4 L114.7,240.4 L115.4,240.3 L116.0,240.3 L116.7,240.3 L117.4,240.3 L118.1,240.3 L118.7,240.3 L119.4,240.3 L120.1,240.3 L120.7,240.3 L121.4,240.3 L122.1,240.3 L122.7,240.3 L123.4,240.3 L124.1,240.3 L124.7,240.2 L125.4,240.2 L126.1,240.2 L126.7,240.2 L127.4,240.2 L128.1,240.2 L128.7,240.2 L129.4,240.2 L130.1,240.2 L130.7,240.2 L131.4,240.2 L132.1,240.2 L132.7,240.2 L133.4,240.2 L134.1,240.2 L134.8,240.1 L135.4,240.1 L136.1,240.1 L136.8,240.1 L137.4,240.1 L138.1,240.1 L138.8,240.1 L139.4,240.1 L140.1,240.1 L140.8,240.1 L141.4,240.1 L142.1,240.1 L142.8,240.1 L143.4,240.1 L144.1,240.1 L144.8,240.1 L145.4,240.1 L146.1,240.1 L146.8,240.0 L147.4,240.0 L148.1,240.0 L148.8,240.0 L149.4,240.0 L150.1,240.0 L150.8,240.0 L151.5,240.0 L152.1,240.0 L152.8,240.0 L153.5,240.0 L154.1,240.0 L154.8,240.0 L155.5,240.0 L156.1,240.0 L156.8,240.0 L157.5,240.0 L158.1,240.0 L158.8,240.0 L159.5,240.0 L160.1,239.9 L160.8,239.9 L161.5,239.9 L162.1,239.9 L162.8,239.9 L163.5,239.9 L164.1,239.9 L164.8,239.9 L165.5,239.9 L166.1,239.9 L166.8,239.9 L167.5,239.9 L168.2,239.9 L168.8,239.9 L169.5,239.9 L170.2,239.9 L170.8,239.9 L171.5,239.9 L172.2,239.9 L172.8,239.9 L173.5,239.9 L174.2,239.9 L174.8,239.9 L175.5,239.8 L176.2,239.8 L176.8,239.8 L177.5,239.8 L178.2,239.8 L178.8,239.8 L179.5,239.8 L180.2,239.8 L180.8,239.8 L181.5,239.8 L182.2,239.8 L182.9,239.8 L183.5,239.8 L184.2,239.8 L184.9,239.8 L185.5,239.8 L186.2,239.8 L186.9,239.8 L187.5,239.8 L188.2,239.8 L188.9,239.8 L189.5,239.8 L190.2,239.7 L190.9,239.7 L191.5,239.7 L192.2,239.7 L192.9,239.7 L193.5,239.7 L194.2,239.7 L194.9,239.7 L195.6,239.7 L196.2,239.7 L196.9,239.7 L197.6,239.7 L198.2,239.7 L198.9,239.7 L199.6,239.7 L200.2,239.7 L200.9,239.7 L201.6,239.7 L202.2,239.7 L202.9,239.7 L203.6,239.7 L204.2,239.6 L204.9,239.6 L205.6,239.6 L206.2,239.6 L206.9,239.6 L207.6,239.6 L208.3,239.6 L208.9,239.6 L209.6,239.6 L210.3,239.6 L210.9,239.6 L211.6,239.6 L212.3,239.6 L212.9,239.6 L213.6,239.6 L214.3,239.6 L214.9,239.6 L215.6,239.6 L216.3,239.6 L216.9,239.5 L217.6,239.5 L218.3,239.5 L219.0,239.5 L219.6,239.5 L220.3,239.5 L221.0,239.5 L221.6,239.5 L222.3,239.5 L223.0,239.5 L223.6,239.5 L224.3,239.5 L225.0,239.5 L225.6,239.5 L226.3,239.5 L227.0,239.5 L227.7,239.4 L228.3,239.4 L229.0,239.4 L229.7,239.4 L230.3,239.4 L231.0,239.4 L231.7,239.4 L232.3,239.4 L233.0,239.4 L233.7,239.4 L234.3,239.4 L235.0,239.4 L235.7,239.4 L236.4,239.4 L237.0,239.4 L237.7,239.3 L238.4,239.3 L239.0,239.3 L239.7,239.3 L240.4,239.3 L241.0,239.3 L241.7,239.3 L242.4,239.3 L243.0,239.3 L243.7,239.3 L244.4,239.3 L245.1,239.3 L245.7,239.2 L246.4,239.2 L247.1,239.2 L247.7,239.2 L248.4,239.2 L249.1,239.2 L249.7,239.2 L250.4,239.2 L251.1,239.2 L251.8,239.2 L252.4,239.2 L253.1,239.2 L253.8,239.1 L254.4,239.1 L255.1,239.1 L255.8,239.1 L256.4,239.1 L257.1,239.1 L257.8,239.1 L258.5,239.1 L259.1,239.1 L259.8,239.1 L260.5,239.0 L261.1,239.0 L261.8,239.0 L262.5,239.0 L263.1,239.0 L263.8,239.0 L264.5,239.0 L265.2,239.0 L265.8,239.0 L266.5,239.0 L267.2,238.9 L267.8,238.9 L268.5,238.9 L269.2,238.9 L269.8,238.9 L270.5,238.9 L271.2,238.9 L271.9,238.9 L272.5,238.9 L273.2,238.9 L273.9,238.8 L274.5,238.8 L275.2,238.8 L275.9,238.8 L276.5,238.8 L277.2,238.8 L277.9,238.8 L278.6,238.8 L279.2,238.8 L279.9,238.8 L280.6,238.8 L281.2,238.8 L281.9,238.8 L282.6,238.8 L283.2,238.8 L283.9,238.8 L284.6,238.8 L285.2,238.8 L285.9,238.8 L286.6,238.8 L287.2,238.8 L287.9,238.8 L288.6,238.8 L289.2,238.8 L289.9,238.8 L290.6,238.8 L291.2,238.8 L291.9,238.8 L292.5,238.8 L293.2,238.8 L293.9,238.8 L294.5,238.8 L295.2,238.8 L295.9,238.8 L296.5,238.9 L297.2,238.9 L297.9,238.9 L298.5,238.9 L299.2,238.9 L299.8,238.9 L300.5,239.0 L301.2,239.0 L301.8,239.0 L302.5,239.1 L303.1,239.1 L303.8,239.1 L304.4,239.2 L305.1,239.3 L305.7,239.4 L306.4,239.5 L307.0,239.6 L307.6,239.7 L308.3,239.8 L308.9,240.0 L309.5,240.2 L310.1,240.4 L310.7,240.6 L311.3,240.9 L311.9,241.2 L312.5,241.5 L313.1,241.8 L313.7,242.2" fill="none" stroke="#ff00ff" stroke-width="1.85" stroke-linejoin="round" stroke-linecap="round"/>
</g><g clip-path="url(#cr)">
<path d="M390.9,232.4 L391.0,231.7 L391.1,230.6 L391.3,229.4 L391.5,228.1 L391.6,226.7 L391.8,225.3 L392.0,224.1 L392.2,223.0 L392.4,222.0 L392.6,221.1 L392.8,220.2 L393.0,219.4 L393.2,218.7 L393.3,218.0 L393.5,217.4 L393.6,217.0 L394.1,216.5 L394.6,216.1 L395.1,215.6 L395.6,215.2 L396.1,214.8 L396.7,214.5 L397.2,214.1 L397.8,213.8 L398.3,213.5 L398.9,213.1 L399.5,212.8 L400.0,212.5 L400.6,212.2 L401.2,211.9 L401.8,211.6 L402.3,211.3 L402.9,211.0 L403.5,210.7 L404.0,210.3 L404.6,210.0 L405.2,209.6 L405.7,209.2 L406.3,208.8 L406.8,208.4 L407.4,207.9 L407.9,207.5 L408.4,207.0 L409.0,206.6 L409.5,206.1 L410.0,205.7 L410.6,205.2 L411.1,204.7 L411.6,204.3 L412.2,203.8 L412.7,203.4 L413.3,203.0 L413.8,202.6 L414.4,202.2 L415.0,201.8 L415.5,201.4 L416.1,201.1 L416.7,200.8 L417.3,200.5 L417.9,200.2 L418.5,200.0 L419.2,199.8 L419.8,199.6 L420.5,199.5 L421.1,199.4 L421.8,199.3 L422.4,199.2 L423.1,199.1 L423.7,199.1 L424.4,199.1 L425.1,199.1 L425.7,199.1 L426.4,199.1 L427.1,199.2 L427.8,199.3 L428.4,199.4 L429.1,199.5 L429.8,199.6 L430.4,199.7 L431.1,199.9 L431.8,200.1 L432.4,200.2 L433.1,200.4 L433.7,200.6 L434.3,200.8 L435.0,201.0 L435.6,201.3 L436.2,201.5 L436.8,201.8 L437.4,202.0 L438.0,202.3 L438.6,202.6 L439.2,202.9 L439.8,203.2 L440.4,203.5 L441.0,203.8 L441.6,204.1 L442.1,204.4 L442.7,204.8 L443.3,205.1 L443.8,205.5 L444.4,205.8 L444.9,206.2 L445.5,206.6 L446.0,207.0 L446.6,207.3 L447.1,207.7 L447.7,208.1 L448.2,208.5 L448.7,208.9 L449.3,209.4 L449.8,209.8 L450.3,210.2 L450.8,210.6 L451.4,211.1 L451.9,211.5 L452.4,212.0 L452.9,212.4 L453.4,212.8 L453.9,213.3 L454.4,213.8 L454.9,214.2 L455.5,214.7 L456.0,215.1 L456.5,215.6 L457.0,216.1 L457.5,216.5 L458.0,217.0 L458.5,217.5 L459.0,218.0 L459.5,218.4 L460.0,218.9 L460.5,219.4 L461.0,219.9 L461.4,220.3 L461.9,220.8 L462.4,221.3 L462.9,221.8 L463.4,222.2 L463.9,222.7 L464.4,223.2 L464.9,223.6 L465.4,224.1 L465.9,224.6 L466.4,225.0 L466.9,225.5 L467.4,226.0 L467.9,226.4 L468.4,226.9 L468.9,227.3 L469.5,227.8 L470.0,228.2 L470.5,228.7 L471.0,229.1 L471.5,229.5 L472.0,230.0 L472.5,230.4 L473.1,230.8 L473.6,231.2 L474.1,231.6 L474.6,232.0 L475.1,232.5 L475.7,232.9 L476.2,233.3 L476.7,233.7 L477.3,234.1 L477.8,234.5 L478.3,234.9 L478.8,235.3 L479.4,235.7 L479.9,236.1 L480.4,236.4 L481.0,236.8 L481.5,237.2 L482.0,237.6 L482.6,238.0 L483.1,238.4 L483.7,238.8 L484.2,239.2 L484.7,239.6 L485.3,240.0 L485.8,240.3 L486.4,240.7 L486.9,241.0 L487.5,241.2 L488.2,241.4 L488.8,241.6 L489.5,241.7 L612.0,241.7 L612.7,241.7 L613.4,241.7 L614.0,241.6 L614.7,241.5 L615.4,241.4 L616.0,241.2 L616.7,241.0 L617.4,240.8 L618.0,240.6 L618.7,240.4 L619.4,240.1 L620.0,239.9 L620.7,239.6 L621.4,239.3 L622.0,239.1 L622.7,238.8 L623.3,238.5 L624.0,238.3 L624.7,238.1 L625.3,237.8 L626.0,237.6 L626.7,237.4 L627.3,237.2 L628.0,237.1 L628.7,237.0 L629.3,236.9 L630.0,236.8 L630.7,236.8 L631.4,236.8 L632.0,236.8 L632.7,236.9 L633.4,237.1 L634.0,237.2 L634.7,237.4 L635.3,237.7 L635.9,238.0 L636.5,238.3 L637.1,238.7 L637.6,239.1 L638.2,239.6 L638.7,240.0 L639.3,240.5 L639.8,240.8 L640.4,241.2 L641.0,241.5 L641.6,241.6 L642.3,241.7 L643.0,241.7 L646.0,241.7" fill="none" stroke="#0000ff" stroke-width="1.85" stroke-linejoin="round" stroke-linecap="round"/>
<path d="M390.9,229.5 L391.0,228.8 L391.2,227.8 L391.3,226.7 L391.5,225.4 L391.7,224.1 L391.9,222.7 L392.1,221.3 L392.3,220.0 L392.5,218.6 L392.7,217.1 L392.9,215.5 L393.1,213.9 L393.3,212.3 L393.4,210.9 L393.6,209.8 L393.7,208.9 L394.4,208.8 L395.1,208.7 L395.8,208.5 L396.5,208.3 L397.1,208.1 L397.7,207.8 L398.3,207.5 L398.8,207.2 L399.4,206.9 L399.9,206.5 L400.4,206.1 L400.9,205.7 L401.4,205.3 L401.9,204.8 L402.3,204.4 L402.8,203.9 L403.2,203.4 L403.6,202.9 L404.1,202.4 L404.5,201.9 L404.9,201.3 L405.3,200.8 L405.7,200.2 L406.1,199.7 L406.4,199.1 L406.8,198.6 L407.2,198.0 L407.6,197.5 L408.0,196.9 L408.4,196.4 L408.8,195.8 L409.2,195.3 L409.6,194.7 L410.0,194.2 L410.4,193.7 L410.8,193.1 L411.2,192.6 L411.6,192.0 L412.0,191.5 L412.4,191.0 L412.8,190.4 L413.2,189.9 L413.6,189.4 L414.0,188.8 L414.4,188.3 L414.8,187.8 L415.2,187.3 L415.6,186.8 L416.0,186.2 L416.5,185.7 L416.9,185.2 L417.3,184.7 L417.7,184.2 L418.1,183.7 L418.6,183.2 L419.0,182.7 L419.4,182.2 L419.9,181.7 L420.3,181.2 L420.8,180.7 L421.2,180.2 L421.7,179.7 L422.1,179.2 L422.6,178.7 L423.0,178.3 L423.5,177.8 L423.9,177.3 L424.4,176.8 L424.9,176.4 L425.3,175.9 L425.8,175.5 L426.3,175.0 L426.8,174.5 L427.2,174.1 L427.7,173.6 L428.2,173.2 L428.7,172.7 L429.2,172.3 L429.7,171.9 L430.2,171.4 L430.7,171.0 L431.3,170.6 L431.8,170.2 L432.3,169.8 L432.8,169.3 L433.4,168.9 L433.9,168.5 L434.4,168.1 L435.0,167.7 L435.5,167.3 L436.1,166.9 L436.6,166.6 L437.2,166.2 L437.7,165.8 L438.3,165.4 L438.9,165.1 L439.4,164.7 L440.0,164.3 L440.6,164.0 L441.2,163.6 L441.8,163.3 L442.4,163.0 L442.9,162.6 L443.5,162.3 L444.1,162.0 L444.7,161.7 L445.3,161.4 L445.9,161.0 L446.5,160.7 L447.1,160.5 L447.8,160.2 L448.4,159.9 L449.0,159.6 L449.6,159.3 L450.2,159.1 L450.9,158.8 L451.5,158.6 L452.1,158.3 L452.7,158.1 L453.4,157.8 L454.0,157.6 L454.6,157.4 L455.3,157.2 L455.9,157.0 L456.5,156.8 L457.2,156.6 L457.8,156.4 L458.5,156.2 L459.1,156.1 L459.8,155.9 L460.4,155.7 L461.0,155.6 L461.7,155.5 L462.3,155.3 L463.0,155.2 L463.6,155.1 L464.3,155.0 L464.9,154.9 L465.6,154.8 L466.3,154.7 L466.9,154.6 L467.6,154.5 L468.2,154.4 L468.9,154.3 L469.5,154.3 L470.2,154.2 L470.9,154.2 L471.5,154.1 L472.2,154.1 L472.8,154.0 L473.5,154.0 L474.2,153.9 L474.8,153.9 L475.5,153.9 L476.2,153.9 L476.8,153.9 L477.5,153.8 L478.2,153.8 L478.8,153.8 L479.5,153.8 L480.2,153.8 L480.8,153.8 L481.5,153.8 L482.2,153.8 L482.8,153.8 L483.5,153.9 L484.2,153.9 L484.8,153.9 L485.5,153.9 L486.2,153.9 L486.8,153.9 L487.5,154.0 L488.2,154.0 L488.9,154.0 L489.5,154.0 L490.2,154.1 L490.9,154.1 L491.5,154.1 L492.2,154.1 L492.9,154.2 L493.5,154.2 L494.2,154.2 L494.9,154.3 L495.5,154.3 L496.2,154.3 L496.9,154.4 L497.6,154.4 L498.2,154.4 L498.9,154.4 L499.6,154.5 L500.2,154.5 L500.9,154.6 L501.6,154.6 L502.2,154.6 L502.9,154.7 L503.6,154.7 L504.3,154.7 L504.9,154.8 L505.6,154.8 L506.3,154.8 L506.9,154.9 L507.6,154.9 L508.3,155.0 L508.9,155.0 L509.6,155.0 L510.3,155.1 L511.0,155.1 L511.6,155.1 L512.3,155.2 L513.0,155.2 L513.6,155.3 L514.3,155.3 L515.0,155.3 L515.6,155.4 L516.3,155.4 L517.0,155.5 L517.7,155.5 L518.3,155.5 L519.0,155.6 L519.7,155.6 L520.3,155.7 L521.0,155.7 L521.7,155.7 L522.3,155.8 L523.0,155.8 L523.7,155.8 L524.3,155.9 L525.0,155.9 L525.7,156.0 L526.4,156.0 L527.0,156.0 L527.7,156.1 L528.4,156.1 L529.0,156.1 L529.7,156.2 L530.4,156.2 L531.0,156.2 L531.7,156.3 L532.4,156.3 L533.0,156.3 L533.7,156.4 L534.4,156.4 L535.0,156.4 L535.7,156.5 L536.4,156.5 L537.0,156.5 L537.7,156.5 L538.4,156.6 L539.1,156.6 L539.7,156.6 L540.4,156.7 L541.1,156.7 L541.7,156.7 L542.4,156.7 L543.1,156.8 L543.7,156.8 L544.4,156.8 L545.1,156.8 L545.7,156.8 L546.4,156.9 L547.1,156.9 L547.7,156.9 L548.4,156.9 L549.1,156.9 L549.7,156.9 L550.4,157.0 L551.1,157.0 L551.7,157.0 L552.4,157.0 L553.1,157.0 L553.7,157.0 L554.4,157.0 L555.1,157.0 L555.7,157.0 L556.4,157.0 L557.1,157.0 L557.7,157.0 L558.4,157.0 L559.1,157.0 L559.7,157.0 L560.4,157.0 L561.1,157.0 L561.7,157.0 L562.4,157.0 L563.0,157.0 L563.7,157.0 L564.4,157.0 L565.0,157.0 L565.7,157.0 L566.4,156.9 L567.0,156.9 L567.7,156.9 L568.4,156.9 L569.0,156.9 L569.7,156.9 L570.4,156.8 L571.0,156.8 L571.7,156.8 L572.4,156.8 L573.0,156.7 L573.7,156.7 L574.3,156.7 L575.0,156.7 L575.7,156.6 L576.3,156.6 L577.0,156.6 L577.7,156.6 L578.3,156.5 L579.0,156.5 L579.7,156.5 L580.3,156.4 L581.0,156.4 L581.7,156.4 L582.3,156.3 L583.0,156.3 L583.7,156.3 L584.3,156.2 L585.0,156.2 L585.7,156.2 L586.3,156.1 L587.0,156.1 L587.7,156.1 L588.3,156.0 L589.0,156.0 L589.7,155.9 L590.3,155.9 L591.0,155.9 L591.7,155.8 L592.3,155.8 L593.0,155.8 L593.7,155.7 L594.3,155.7 L595.0,155.6 L595.7,155.6 L596.4,155.6 L597.0,155.5 L597.7,155.5 L598.4,155.4 L599.0,155.4 L599.7,155.4 L600.4,155.3 L601.1,155.3 L601.7,155.2 L602.4,155.2 L603.1,155.1 L603.7,155.1 L604.4,155.1 L605.1,155.0 L605.8,155.0 L606.4,154.9 L607.1,154.9 L607.8,154.9 L608.5,154.8 L609.1,154.8 L609.8,154.8 L610.5,154.7 L611.2,154.7 L611.9,154.6 L612.5,154.6 L613.2,154.6 L613.9,154.5 L614.6,154.5 L615.2,154.5 L615.9,154.4 L616.6,154.4 L617.3,154.4 L618.0,154.3 L618.7,154.3 L619.3,154.3 L620.0,154.2 L620.7,154.2 L621.4,154.2 L622.1,154.2 L622.7,154.2 L623.4,154.2 L624.1,154.2 L624.7,154.2 L625.4,154.2 L626.0,154.3 L626.7,154.4 L627.3,154.5 L627.9,154.6 L628.6,154.7 L629.2,154.9 L629.7,155.1 L630.3,155.3 L630.9,155.6 L631.4,155.9 L632.0,156.2 L632.5,156.5 L633.0,156.9 L633.5,157.3 L633.9,157.7 L634.4,158.2 L634.8,158.7 L635.2,159.2 L635.6,159.7 L636.0,160.3 L636.3,160.8 L636.7,161.4 L637.0,162.0 L637.3,162.6 L637.6,163.2 L637.8,163.9 L638.1,164.5 L638.3,165.2 L638.6,165.8 L638.8,166.5 L639.0,167.2 L639.2,167.9 L639.3,168.5 L639.5,169.2 L639.7,169.9 L639.8,170.5 L639.9,171.2 L640.0,171.9 L640.2,172.6 L640.3,173.2 L640.4,173.9 L640.5,174.6 L640.5,175.2 L640.6,175.9 L640.7,176.5 L640.8,177.2 L640.9,177.9 L640.9,178.5 L641.0,179.2 L641.1,179.9 L641.2,180.5 L641.2,181.2 L641.3,181.9 L641.4,182.5 L641.5,183.2 L641.5,183.8 L641.6,184.5 L641.7,185.2 L641.8,185.8 L641.9,186.5 L641.9,187.2 L642.0,187.8 L642.1,188.5 L642.2,189.1 L642.2,189.8 L642.3,190.5 L642.4,191.1 L642.5,191.8 L642.6,192.5 L642.6,193.1 L642.7,193.8 L642.8,194.4 L642.9,195.1 L643.0,195.8 L643.0,196.4 L643.1,197.1 L643.2,197.8 L643.3,198.4 L643.3,199.1 L643.4,199.7 L643.5,200.4 L643.6,201.1 L643.7,201.7 L643.7,202.4 L643.8,203.0 L643.9,203.7 L644.0,204.4 L644.0,205.0 L644.1,205.7 L644.2,206.4 L644.3,207.0 L644.3,207.7 L644.4,208.3 L644.5,209.0 L644.5,209.7 L644.6,210.3 L644.7,211.0 L644.7,211.7 L644.8,212.3 L644.9,213.0 L644.9,213.7 L645.0,214.3 L645.1,215.0 L645.1,215.6 L645.2,216.3 L645.3,217.0 L645.3,217.6 L645.4,218.3 L645.4,219.0 L645.5,219.6 L645.5,220.3 L645.6,221.0 L645.7,221.6 L645.7,222.3 L645.8,223.0 L645.8,223.6 L645.9,224.3 L645.9,225.0 L646.0,225.6 L646.0,226.3 L646.0,227.0 L646.1,227.6 L646.1,228.3 L646.2,229.0 L646.2,229.6 L646.2,230.3 L646.3,231.0 L646.3,231.6 L646.3,232.3 L646.4,233.0 L646.4,233.6 L646.4,234.3 L646.4,235.0 L646.5,235.7 L646.5,236.3 L646.5,237.0 L646.5,237.7 L646.5,238.3 L646.6,239.0 L646.6,239.7 L646.6,240.4 L646.6,241.0 L646.6,241.7" fill="none" stroke="#00ff00" stroke-width="1.85" stroke-linejoin="round" stroke-linecap="round"/>
<path d="M390.9,228.5 L391.0,227.3 L391.2,225.6 L391.3,223.6 L391.5,221.5 L391.7,219.2 L391.9,217.0 L392.1,214.8 L392.3,213.0 L392.5,211.3 L392.7,209.6 L392.9,207.9 L393.1,206.3 L393.3,204.9 L393.4,203.6 L393.6,202.5 L393.7,201.6 L394.3,201.4 L394.9,201.3 L395.6,201.2 L396.3,201.2 L397.0,201.2 L397.7,201.2 L398.4,201.2 L399.1,201.2 L399.8,201.1 L400.4,200.9 L401.0,200.7 L401.5,200.4 L402.0,200.0 L402.4,199.6 L402.9,199.2 L403.3,198.7 L403.7,198.2 L404.0,197.7 L404.4,197.1 L404.7,196.5 L405.1,196.0 L405.4,195.4 L405.7,194.8 L406.1,194.2 L406.4,193.6 L406.7,193.0 L407.0,192.4 L407.4,191.8 L407.7,191.3 L408.0,190.7 L408.3,190.1 L408.6,189.5 L408.9,188.9 L409.3,188.3 L409.6,187.7 L409.9,187.1 L410.2,186.5 L410.5,185.9 L410.8,185.3 L411.1,184.7 L411.4,184.1 L411.7,183.5 L412.0,182.9 L412.3,182.3 L412.6,181.7 L412.9,181.1 L413.2,180.5 L413.5,179.9 L413.8,179.3 L414.1,178.7 L414.4,178.1 L414.7,177.5 L415.0,176.9 L415.3,176.3 L415.6,175.7 L415.9,175.1 L416.2,174.5 L416.5,173.9 L416.8,173.3 L417.1,172.7 L417.4,172.1 L417.7,171.5 L418.0,170.9 L418.3,170.3 L418.6,169.7 L418.9,169.1 L419.1,168.5 L419.4,167.9 L419.7,167.3 L420.0,166.7 L420.3,166.1 L420.6,165.5 L420.9,164.9 L421.2,164.3 L421.5,163.7 L421.8,163.1 L422.1,162.5 L422.4,161.9 L422.7,161.3 L423.0,160.7 L423.3,160.1 L423.6,159.5 L423.9,158.9 L424.2,158.3 L424.5,157.7 L424.8,157.1 L425.1,156.6 L425.4,156.0 L425.7,155.4 L426.0,154.8 L426.3,154.2 L426.6,153.6 L426.9,153.0 L427.2,152.4 L427.5,151.8 L427.9,151.2 L428.2,150.6 L428.5,150.1 L428.8,149.5 L429.1,148.9 L429.4,148.3 L429.7,147.7 L430.1,147.1 L430.4,146.5 L430.7,146.0 L431.0,145.4 L431.4,144.8 L431.7,144.2 L432.0,143.6 L432.4,143.1 L432.7,142.5 L433.0,141.9 L433.4,141.3 L433.7,140.8 L434.0,140.2 L434.4,139.6 L434.7,139.0 L435.1,138.5 L435.4,137.9 L435.8,137.3 L436.1,136.8 L436.5,136.2 L436.8,135.6 L437.2,135.1 L437.5,134.5 L437.9,133.9 L438.3,133.4 L438.6,132.8 L439.0,132.3 L439.3,131.7 L439.7,131.1 L440.1,130.6 L440.5,130.0 L440.8,129.5 L441.2,128.9 L441.6,128.4 L441.9,127.8 L442.3,127.3 L442.7,126.7 L443.1,126.2 L443.5,125.6 L443.9,125.1 L444.2,124.5 L444.6,124.0 L445.0,123.4 L445.4,122.9 L445.8,122.4 L446.2,121.8 L446.6,121.3 L447.0,120.8 L447.4,120.2 L447.8,119.7 L448.2,119.2 L448.6,118.6 L449.0,118.1 L449.4,117.6 L449.8,117.0 L450.2,116.5 L450.6,116.0 L451.0,115.5 L451.4,114.9 L451.9,114.4 L452.3,113.9 L452.7,113.4 L453.1,112.9 L453.5,112.4 L454.0,111.8 L454.4,111.3 L454.8,110.8 L455.2,110.3 L455.7,109.8 L456.1,109.3 L456.5,108.8 L457.0,108.3 L457.4,107.8 L457.8,107.3 L458.3,106.8 L458.7,106.3 L459.2,105.8 L459.6,105.3 L460.1,104.8 L460.5,104.3 L461.0,103.8 L461.4,103.3 L461.9,102.8 L462.3,102.3 L462.8,101.9 L463.2,101.4 L463.7,100.9 L464.1,100.4 L464.6,99.9 L465.1,99.5 L465.5,99.0 L466.0,98.5 L466.5,98.0 L466.9,97.6 L467.4,97.1 L467.9,96.6 L468.3,96.2 L468.8,95.7 L469.3,95.2 L469.8,94.8 L470.3,94.3 L470.7,93.8 L471.2,93.4 L471.7,92.9 L472.2,92.5 L472.7,92.0 L473.2,91.6 L473.7,91.1 L474.1,90.7 L474.6,90.2 L475.1,89.8 L475.6,89.4 L476.1,88.9 L476.6,88.5 L477.1,88.0 L477.6,87.6 L478.1,87.2 L478.6,86.8 L479.2,86.3 L479.7,85.9 L480.2,85.5 L480.7,85.0 L481.2,84.6 L481.7,84.2 L482.2,83.8 L482.8,83.4 L483.3,83.0 L483.8,82.5 L484.3,82.1 L484.8,81.7 L485.4,81.3 L485.9,80.9 L486.4,80.5 L487.0,80.1 L487.5,79.7 L488.0,79.3 L488.6,78.9 L489.1,78.5 L489.6,78.1 L490.2,77.7 L490.7,77.4 L491.3,77.0 L491.8,76.6 L492.3,76.2 L492.9,75.8 L493.4,75.5 L494.0,75.1 L494.5,74.7 L495.1,74.3 L495.7,74.0 L496.2,73.6 L496.8,73.2 L497.3,72.9 L497.9,72.5 L498.4,72.2 L499.0,71.8 L499.6,71.4 L500.1,71.1 L500.7,70.7 L501.3,70.4 L501.9,70.0 L502.4,69.7 L503.0,69.4 L503.6,69.0 L504.2,68.7 L504.7,68.4 L505.3,68.0 L505.9,67.7 L506.5,67.4 L507.1,67.0 L507.6,66.7 L508.2,66.4 L508.8,66.1 L509.4,65.8 L510.0,65.4 L510.6,65.1 L511.2,64.8 L511.8,64.5 L512.4,64.2 L513.0,63.9 L513.6,63.6 L514.2,63.3 L514.8,63.0 L515.4,62.7 L516.0,62.4 L516.6,62.1 L517.2,61.8 L517.8,61.6 L518.4,61.3 L519.0,61.0 L519.6,60.7 L520.2,60.4 L520.9,60.2 L521.5,59.9 L522.1,59.6 L522.7,59.4 L523.3,59.1 L523.9,58.9 L524.5,58.6 L525.2,58.3 L525.8,58.1 L526.4,57.8 L527.0,57.6 L527.7,57.3 L528.3,57.1 L528.9,56.9 L529.5,56.6 L530.2,56.4 L530.8,56.2 L531.4,55.9 L532.0,55.7 L532.7,55.5 L533.3,55.3 L533.9,55.0 L534.6,54.8 L535.2,54.6 L535.8,54.4 L536.5,54.2 L537.1,54.0 L537.8,53.8 L538.4,53.6 L539.0,53.4 L539.7,53.2 L540.3,53.0 L541.0,52.8 L541.6,52.6 L542.2,52.4 L542.9,52.3 L543.5,52.1 L544.2,51.9 L544.8,51.7 L545.5,51.6 L546.1,51.4 L546.7,51.2 L547.4,51.1 L548.0,50.9 L548.7,50.8 L549.3,50.6 L550.0,50.5 L550.6,50.3 L551.3,50.2 L551.9,50.0 L552.6,49.9 L553.2,49.8 L553.9,49.6 L554.5,49.5 L555.2,49.4 L555.9,49.2 L556.5,49.1 L557.2,49.0 L557.8,48.9 L558.5,48.8 L559.1,48.7 L559.8,48.5 L560.4,48.4 L561.1,48.3 L561.8,48.2 L562.4,48.1 L563.1,48.1 L563.7,48.0 L564.4,47.9 L565.0,47.8 L565.7,47.7 L566.4,47.6 L567.0,47.5 L567.7,47.5 L568.3,47.4 L569.0,47.3 L569.7,47.2 L570.3,47.2 L571.0,47.1 L571.7,47.1 L572.3,47.0 L573.0,46.9 L573.6,46.9 L574.3,46.8 L575.0,46.8 L575.6,46.7 L576.3,46.7 L577.0,46.7 L577.6,46.6 L578.3,46.6 L579.0,46.5 L579.6,46.5 L580.3,46.5 L581.0,46.5 L581.6,46.4 L582.3,46.4 L583.0,46.4 L583.6,46.4 L584.3,46.4 L585.0,46.3 L585.6,46.3 L586.3,46.3 L587.0,46.3 L587.6,46.3 L588.3,46.3 L589.0,46.3 L589.6,46.3 L590.3,46.3 L591.0,46.3 L591.6,46.3 L592.3,46.3 L593.0,46.4 L593.6,46.4 L594.3,46.4 L595.0,46.4 L595.6,46.4 L596.3,46.4 L597.0,46.5 L597.6,46.5 L598.3,46.5 L599.0,46.6 L599.6,46.6 L600.3,46.6 L601.0,46.7 L601.6,46.7 L602.3,46.7 L603.0,46.8 L603.6,46.8 L604.3,46.9 L605.0,46.9 L605.6,47.0 L606.3,47.0 L607.0,47.1 L607.6,47.1 L608.3,47.2 L609.0,47.3 L609.6,47.3 L610.3,47.4 L611.0,47.5 L611.6,47.5 L612.3,47.6 L613.0,47.7 L613.6,47.8 L614.3,47.9 L615.0,48.0 L615.6,48.1 L616.3,48.2 L616.9,48.3 L617.6,48.4 L618.2,48.6 L618.9,48.7 L619.6,48.9 L620.2,49.0 L620.9,49.2 L621.5,49.4 L622.2,49.6 L622.8,49.8 L623.4,50.0 L624.1,50.2 L624.7,50.4 L625.4,50.7 L626.0,50.9 L626.6,51.2 L627.3,51.5 L627.9,51.8 L628.5,52.1 L629.1,52.4 L629.7,52.7 L630.3,53.1 L630.9,53.4 L631.4,53.8 L632.0,54.2 L632.5,54.6 L633.0,55.0 L633.5,55.4 L634.0,55.9 L634.4,56.3 L634.9,56.8 L635.3,57.2 L635.7,57.7 L636.1,58.2 L636.4,58.7 L636.8,59.2 L637.1,59.8 L637.4,60.3 L637.7,60.8 L638.0,61.4 L638.3,62.0 L638.6,62.5 L638.8,63.1 L639.0,63.7 L639.3,64.3 L639.5,64.9 L639.7,65.5 L639.9,66.1 L640.1,66.8 L640.2,67.4 L640.4,68.0 L640.5,68.7 L640.7,69.3 L640.8,70.0 L640.9,70.6 L641.1,71.3 L641.2,71.9 L641.3,72.6 L641.4,73.3 L641.5,74.0 L641.6,74.6 L641.7,75.3 L641.7,76.0 L641.8,76.7 L641.9,77.4 L642.0,78.0 L642.0,78.7 L642.1,79.4 L642.2,80.1 L642.3,80.8 L642.3,81.5 L642.4,82.1 L642.5,82.8 L642.5,83.5 L642.6,84.2 L642.7,84.9 L642.7,85.6 L642.8,86.2 L642.8,86.9 L642.9,87.6 L643.0,88.3 L643.0,89.0 L643.1,89.6 L643.1,90.3 L643.2,91.0 L643.3,91.7 L643.3,92.4 L643.4,93.0 L643.4,93.7 L643.5,94.4 L643.5,95.1 L643.6,95.7 L643.7,96.4 L643.7,97.1 L643.8,97.8 L643.8,98.4 L643.9,99.1 L643.9,99.8 L644.0,100.5 L644.0,101.1 L644.1,101.8 L644.1,102.5 L644.2,103.2 L644.2,103.8 L644.3,104.5 L644.3,105.2 L644.4,105.9 L644.4,106.5 L644.5,107.2 L644.5,107.9 L644.6,108.5 L644.6,109.2 L644.6,109.9 L644.7,110.6 L644.7,111.2 L644.8,111.9 L644.8,112.6 L644.9,113.2 L644.9,113.9 L644.9,114.6 L645.0,115.2 L645.0,115.9 L645.1,116.6 L645.1,117.3 L645.1,117.9 L645.2,118.6 L645.2,119.3 L645.3,119.9 L645.3,120.6 L645.3,121.3 L645.4,121.9 L645.4,122.6 L645.4,123.3 L645.5,123.9 L645.5,124.6 L645.5,125.3 L645.6,125.9 L645.6,126.6 L645.6,127.3 L645.7,127.9 L645.7,128.6 L645.7,129.3 L645.8,129.9 L645.8,130.6 L645.8,131.2 L645.9,131.9 L645.9,132.6 L645.9,133.2 L646.0,133.9 L646.0,134.6 L646.0,135.2 L646.1,135.9 L646.1,136.6 L646.1,137.2 L646.1,137.9 L646.2,138.5 L646.2,139.2 L646.2,139.9 L646.2,140.5 L646.3,141.2 L646.3,141.9 L646.3,142.5 L646.3,143.2 L646.4,143.8 L646.4,144.5 L646.4,145.2 L646.4,145.8 L646.5,146.5 L646.5,147.2 L646.5,147.8 L646.5,148.5 L646.6,149.1 L646.6,149.8 L646.6,150.5 L646.6,151.1 L646.7,151.8 L646.7,152.4 L646.7,153.1 L646.7,153.8 L646.7,154.4 L646.8,155.1 L646.8,155.7 L646.8,156.4 L646.8,157.1 L646.8,157.7 L646.9,158.4 L646.9,159.1 L646.9,159.7 L646.9,160.4 L646.9,161.0 L647.0,161.7 L647.0,162.4 L647.0,163.0 L647.0,163.7 L647.0,164.3 L647.1,165.0 L647.1,165.7 L647.1,166.3 L647.1,167.0 L647.1,167.6 L647.1,168.3 L647.2,169.0 L647.2,169.6 L647.2,170.3 L647.2,170.9 L647.2,171.6 L647.2,172.3 L647.3,172.9 L647.3,173.6 L647.3,174.2 L647.3,174.9 L647.3,175.6 L647.3,176.2 L647.4,176.9 L647.4,177.5 L647.4,178.2 L647.4,178.9 L647.4,179.5 L647.4,180.2 L647.4,180.9 L647.5,181.5 L647.5,182.2 L647.5,182.8 L647.5,183.5 L647.5,184.2 L647.5,184.8 L647.6,185.5 L647.6,186.1 L647.6,186.8 L647.6,187.5 L647.6,188.1 L647.6,188.8 L647.6,189.5 L647.7,190.1 L647.7,190.8 L647.7,191.4 L647.7,192.1 L647.7,192.8 L647.7,193.4 L647.7,194.1 L647.8,194.8 L647.8,195.4 L647.8,196.1 L647.8,196.8 L647.8,197.4 L647.8,198.1 L647.8,198.7 L647.9,199.4 L647.9,200.1 L647.9,200.7 L647.9,201.4 L647.9,202.1 L647.9,202.7 L647.9,203.4 L648.0,204.1 L648.0,204.7 L648.0,205.4 L648.0,206.1 L648.0,206.7 L648.0,207.4 L648.1,208.1 L648.1,208.7 L648.1,209.4 L648.1,210.1 L648.1,210.7 L648.1,211.4 L648.1,212.1 L648.2,212.7 L648.2,213.4 L648.2,214.1 L648.2,214.7 L648.2,215.4 L648.2,216.1 L648.3,216.7 L648.3,217.4 L648.3,218.1 L648.3,218.8 L648.3,219.4 L648.3,220.1 L648.4,220.8 L648.4,221.4 L648.4,222.1 L648.4,222.8 L648.4,223.5 L648.5,224.1 L648.5,224.8 L648.5,225.5 L648.5,226.1 L648.5,226.8 L648.5,227.5 L648.6,228.2 L648.6,228.8 L648.6,229.5 L648.6,230.2 L648.6,230.9 L648.7,231.5 L648.7,232.2 L648.7,232.9 L648.7,233.6 L648.8,234.2 L648.8,234.9 L648.8,235.6 L648.8,236.3 L648.8,236.9 L648.9,237.6 L648.9,238.3 L648.9,239.0 L648.9,239.7 L649.0,240.3 L649.0,241.0 L649.0,241.7" fill="none" stroke="#ff0000" stroke-width="1.85" stroke-linejoin="round" stroke-linecap="round"/>
<path d="M390.9,229.0 L391.0,227.7 L391.1,225.8 L391.3,223.6 L391.5,221.2 L391.7,218.7 L391.8,216.3 L392.0,214.0 L392.2,212.0 L392.4,210.2 L392.6,208.5 L392.7,206.8 L392.9,205.2 L393.1,203.8 L393.3,202.5 L393.4,201.4 L393.5,200.6 L394.0,200.2 L394.6,199.9 L395.2,199.8 L395.9,199.8 L396.7,199.8 L397.4,199.8 L398.1,199.9 L398.8,199.9 L399.5,199.8 L400.1,199.6 L400.6,199.3 L401.1,199.0 L401.6,198.6 L402.0,198.2 L402.4,197.7 L402.8,197.2 L403.1,196.7 L403.5,196.1 L403.8,195.5 L404.1,194.9 L404.4,194.3 L404.7,193.7 L405.0,193.1 L405.3,192.5 L405.7,191.9 L406.0,191.3 L406.3,190.7 L406.6,190.1 L406.9,189.5 L407.2,188.9 L407.5,188.3 L407.8,187.7 L408.1,187.1 L408.4,186.5 L408.7,185.9 L409.0,185.3 L409.2,184.6 L409.5,184.0 L409.8,183.4 L410.1,182.8 L410.4,182.2 L410.7,181.6 L411.0,181.0 L411.3,180.4 L411.6,179.8 L411.9,179.2 L412.2,178.6 L412.4,178.0 L412.7,177.4 L413.0,176.8 L413.3,176.2 L413.6,175.6 L413.9,175.0 L414.2,174.4 L414.4,173.8 L414.7,173.2 L415.0,172.6 L415.3,172.0 L415.6,171.4 L415.9,170.8 L416.1,170.2 L416.4,169.5 L416.7,168.9 L417.0,168.3 L417.3,167.7 L417.5,167.1 L417.8,166.5 L418.1,165.9 L418.4,165.3 L418.7,164.7 L419.0,164.1 L419.2,163.5 L419.5,162.9 L419.8,162.3 L420.1,161.7 L420.4,161.1 L420.6,160.5 L420.9,159.9 L421.2,159.3 L421.5,158.7 L421.8,158.1 L422.1,157.5 L422.3,156.9 L422.6,156.3 L422.9,155.7 L423.2,155.1 L423.5,154.5 L423.8,153.9 L424.1,153.3 L424.3,152.7 L424.6,152.2 L424.9,151.6 L425.2,151.0 L425.5,150.4 L425.8,149.8 L426.1,149.2 L426.4,148.6 L426.6,148.0 L426.9,147.4 L427.2,146.8 L427.5,146.2 L427.8,145.6 L428.1,145.0 L428.4,144.4 L428.7,143.8 L429.0,143.2 L429.3,142.6 L429.6,142.1 L429.9,141.5 L430.2,140.9 L430.5,140.3 L430.8,139.7 L431.1,139.1 L431.4,138.5 L431.7,137.9 L432.0,137.3 L432.3,136.8 L432.6,136.2 L432.9,135.6 L433.3,135.0 L433.6,134.4 L433.9,133.8 L434.2,133.2 L434.5,132.7 L434.8,132.1 L435.1,131.5 L435.5,130.9 L435.8,130.3 L436.1,129.7 L436.4,129.2 L436.8,128.6 L437.1,128.0 L437.4,127.4 L437.7,126.8 L438.1,126.3 L438.4,125.7 L438.7,125.1 L439.1,124.5 L439.4,123.9 L439.7,123.4 L440.1,122.8 L440.4,122.2 L440.8,121.6 L441.1,121.1 L441.4,120.5 L441.8,119.9 L442.1,119.3 L442.5,118.8 L442.8,118.2 L443.2,117.6 L443.5,117.1 L443.9,116.5 L444.2,115.9 L444.6,115.4 L444.9,114.8 L445.3,114.2 L445.7,113.7 L446.0,113.1 L446.4,112.5 L446.8,112.0 L447.1,111.4 L447.5,110.8 L447.8,110.3 L448.2,109.7 L448.6,109.2 L449.0,108.6 L449.3,108.0 L449.7,107.5 L450.1,106.9 L450.5,106.4 L450.8,105.8 L451.2,105.3 L451.6,104.7 L452.0,104.1 L452.4,103.6 L452.7,103.0 L453.1,102.5 L453.5,101.9 L453.9,101.4 L454.3,100.9 L454.7,100.3 L455.1,99.8 L455.5,99.2 L455.9,98.7 L456.3,98.1 L456.7,97.6 L457.1,97.0 L457.5,96.5 L457.9,96.0 L458.3,95.4 L458.7,94.9 L459.1,94.4 L459.5,93.8 L459.9,93.3 L460.3,92.8 L460.7,92.2 L461.1,91.7 L461.5,91.2 L461.9,90.6 L462.4,90.1 L462.8,89.6 L463.2,89.1 L463.6,88.5 L464.0,88.0 L464.5,87.5 L464.9,87.0 L465.3,86.4 L465.7,85.9 L466.2,85.4 L466.6,84.9 L467.0,84.4 L467.4,83.9 L467.9,83.4 L468.3,82.8 L468.7,82.3 L469.2,81.8 L469.6,81.3 L470.1,80.8 L470.5,80.3 L470.9,79.8 L471.4,79.3 L471.8,78.8 L472.3,78.3 L472.7,77.8 L473.2,77.3 L473.6,76.8 L474.1,76.3 L474.5,75.8 L475.0,75.3 L475.4,74.8 L475.9,74.3 L476.3,73.9 L476.8,73.4 L477.3,72.9 L477.7,72.4 L478.2,71.9 L478.6,71.4 L479.1,70.9 L479.6,70.5 L480.0,70.0 L480.5,69.5 L481.0,69.0 L481.5,68.6 L481.9,68.1 L482.4,67.6 L482.9,67.2 L483.4,66.7 L483.8,66.2 L484.3,65.8 L484.8,65.3 L485.3,64.8 L485.8,64.4 L486.2,63.9 L486.7,63.5 L487.2,63.0 L487.7,62.6 L488.2,62.1 L488.7,61.7 L489.2,61.2 L489.7,60.8 L490.2,60.3 L490.7,59.9 L491.2,59.4 L491.7,59.0 L492.2,58.5 L492.7,58.1 L493.2,57.7 L493.7,57.2 L494.2,56.8 L494.7,56.4 L495.2,55.9 L495.7,55.5 L496.2,55.1 L496.7,54.7 L497.2,54.2 L497.7,53.8 L498.3,53.4 L498.8,53.0 L499.3,52.6 L499.8,52.2 L500.3,51.7 L500.9,51.3 L501.4,50.9 L501.9,50.5 L502.4,50.1 L503.0,49.7 L503.5,49.3 L504.0,48.9 L504.6,48.5 L505.1,48.1 L505.6,47.7 L506.2,47.3 L506.7,46.9 L507.2,46.6 L507.8,46.2 L508.3,45.8 L508.8,45.4 L509.4,45.0 L509.9,44.6 L510.5,44.3 L511.0,43.9 L511.6,43.5 L512.1,43.2 L512.7,42.8 L513.2,42.4 L513.8,42.1 L514.3,41.7 L514.9,41.3 L515.4,41.0 L516.0,40.6 L516.6,40.3 L517.1,39.9 L517.7,39.6 L518.2,39.2 L518.8,38.9 L519.4,38.5 L519.9,38.2 L520.5,37.8 L521.1,37.5 L521.6,37.2 L522.2,36.8 L522.8,36.5 L523.4,36.2 L523.9,35.8 L524.5,35.5 L525.1,35.2 L525.7,34.9 L526.3,34.5 L526.8,34.2 L527.4,33.9 L528.0,33.6 L528.6,33.3 L529.2,33.0 L529.8,32.7 L530.4,32.4 L530.9,32.1 L531.5,31.8 L532.1,31.5 L532.7,31.2 L533.3,30.9 L533.9,30.6 L534.5,30.3 L535.1,30.0 L535.7,29.7 L536.3,29.5 L536.9,29.2 L537.5,28.9 L538.1,28.6 L538.7,28.4 L539.4,28.1 L540.0,27.8 L540.6,27.6 L541.2,27.3 L541.8,27.0 L542.4,26.8 L543.0,26.5 L543.7,26.3 L544.3,26.0 L544.9,25.8 L545.5,25.5 L546.1,25.3 L546.8,25.1 L547.4,24.8 L548.0,24.6 L548.6,24.4 L549.3,24.1 L549.9,23.9 L550.5,23.7 L551.2,23.4 L551.8,23.2 L552.4,23.0 L553.1,22.8 L553.7,22.6 L554.3,22.4 L555.0,22.2 L555.6,22.0 L556.3,21.8 L556.9,21.6 L557.6,21.4 L558.2,21.2 L558.8,21.0 L559.5,20.8 L560.1,20.6 L560.8,20.4 L561.4,20.3 L562.1,20.1 L562.7,19.9 L563.4,19.8 L564.0,19.6 L564.7,19.4 L565.4,19.3 L566.0,19.1 L566.7,19.0 L567.3,18.9 L568.0,18.7 L568.6,18.6 L569.3,18.4 L569.9,18.3 L570.6,18.2 L571.3,18.1 L571.9,18.0 L572.6,17.8 L573.2,17.7 L573.9,17.6 L574.6,17.5 L575.2,17.4 L575.9,17.3 L576.6,17.3 L577.2,17.2 L577.9,17.1 L578.6,17.0 L579.2,16.9 L579.9,16.9 L580.5,16.8 L581.2,16.8 L581.9,16.7 L582.5,16.7 L583.2,16.6 L583.9,16.6 L584.5,16.6 L585.2,16.5 L585.9,16.5 L586.5,16.5 L587.2,16.5 L587.9,16.5 L588.5,16.5 L589.2,16.5 L589.9,16.5 L590.5,16.5 L591.2,16.5 L591.9,16.5 L592.5,16.5 L593.2,16.5 L593.8,16.5 L594.5,16.6 L595.2,16.6 L595.8,16.6 L596.5,16.7 L597.2,16.7 L597.8,16.8 L598.5,16.8 L599.2,16.9 L599.8,16.9 L600.5,17.0 L601.2,17.0 L601.8,17.1 L602.5,17.2 L603.2,17.2 L603.8,17.3 L604.5,17.4 L605.1,17.4 L605.8,17.5 L606.5,17.6 L607.1,17.7 L607.8,17.8 L608.5,17.8 L609.1,17.9 L609.8,18.0 L610.4,18.1 L611.1,18.2 L611.8,18.3 L612.4,18.4 L613.1,18.5 L613.7,18.6 L614.4,18.8 L615.0,18.9 L615.7,19.0 L616.4,19.1 L617.0,19.3 L617.7,19.4 L618.3,19.6 L619.0,19.7 L619.6,19.9 L620.3,20.0 L620.9,20.2 L621.5,20.4 L622.2,20.5 L622.8,20.7 L623.5,20.9 L624.1,21.1 L624.7,21.3 L625.4,21.5 L626.0,21.8 L626.6,22.0 L627.3,22.2 L627.9,22.5 L628.5,22.7 L629.1,23.0 L629.8,23.2 L630.4,23.5 L631.0,23.8 L631.5,24.2 L632.1,24.5 L632.7,24.9 L633.2,25.3 L633.7,25.7 L634.2,26.2 L634.6,26.7 L635.1,27.2 L635.5,27.7 L635.9,28.2 L636.3,28.7 L636.7,29.3 L637.0,29.9 L637.4,30.5 L637.7,31.0 L638.0,31.6 L638.3,32.2 L638.5,32.8 L638.8,33.5 L639.0,34.1 L639.3,34.7 L639.5,35.3 L639.7,36.0 L639.9,36.6 L640.1,37.2 L640.3,37.9 L640.5,38.5 L640.6,39.2 L640.8,39.8 L640.9,40.5 L641.1,41.1 L641.2,41.8 L641.4,42.5 L641.5,43.1 L641.6,43.8 L641.8,44.4 L641.9,45.1 L642.0,45.7 L642.1,46.4 L642.2,47.0 L642.4,47.7 L642.5,48.4 L642.6,49.0 L642.7,49.7 L642.8,50.3 L642.9,51.0 L643.0,51.7 L643.1,52.3 L643.2,53.0 L643.2,53.6 L643.3,54.3 L643.4,55.0 L643.5,55.6 L643.6,56.3 L643.6,56.9 L643.7,57.6 L643.8,58.3 L643.9,58.9 L643.9,59.6 L644.0,60.3 L644.1,60.9 L644.1,61.6 L644.2,62.2 L644.2,62.9 L644.3,63.6 L644.3,64.2 L644.4,64.9 L644.4,65.6 L644.5,66.2 L644.5,66.9 L644.6,67.6 L644.6,68.2 L644.7,68.9 L644.7,69.6 L644.8,70.2 L644.8,70.9 L644.8,71.6 L644.9,72.2 L644.9,72.9 L644.9,73.6 L645.0,74.2 L645.0,74.9 L645.0,75.6 L645.1,76.2 L645.1,76.9 L645.1,77.6 L645.2,78.2 L645.2,78.9 L645.2,79.6 L645.3,80.2 L645.3,80.9 L645.3,81.6 L645.4,82.2 L645.4,82.9 L645.4,83.6 L645.5,84.2 L645.5,84.9 L645.5,85.6 L645.6,86.2 L645.6,86.9 L645.6,87.6 L645.6,88.2 L645.7,88.9 L645.7,89.6 L645.7,90.2 L645.8,90.9 L645.8,91.6 L645.8,92.2 L645.8,92.9 L645.9,93.6 L645.9,94.2 L645.9,94.9 L645.9,95.6 L646.0,96.2 L646.0,96.9 L646.0,97.6 L646.0,98.2 L646.1,98.9 L646.1,99.6 L646.1,100.2 L646.1,100.9 L646.2,101.6 L646.2,102.2 L646.2,102.9 L646.2,103.6 L646.3,104.2 L646.3,104.9 L646.3,105.6 L646.3,106.2 L646.4,106.9 L646.4,107.6 L646.4,108.2 L646.4,108.9 L646.5,109.6 L646.5,110.2 L646.5,110.9 L646.5,111.6 L646.5,112.2 L646.6,112.9 L646.6,113.6 L646.6,114.2 L646.6,114.9 L646.6,115.6 L646.7,116.2 L646.7,116.9 L646.7,117.6 L646.7,118.2 L646.8,118.9 L646.8,119.6 L646.8,120.2 L646.8,120.9 L646.8,121.6 L646.9,122.2 L646.9,122.9 L646.9,123.6 L646.9,124.2 L646.9,124.9 L646.9,125.6 L647.0,126.2 L647.0,126.9 L647.0,127.6 L647.0,128.3 L647.0,128.9 L647.1,129.6 L647.1,130.3 L647.1,130.9 L647.1,131.6 L647.1,132.3 L647.1,132.9 L647.2,133.6 L647.2,134.3 L647.2,134.9 L647.2,135.6 L647.2,136.3 L647.2,136.9 L647.3,137.6 L647.3,138.3 L647.3,138.9 L647.3,139.6 L647.3,140.3 L647.3,140.9 L647.4,141.6 L647.4,142.3 L647.4,142.9 L647.4,143.6 L647.4,144.3 L647.4,144.9 L647.5,145.6 L647.5,146.3 L647.5,146.9 L647.5,147.6 L647.5,148.3 L647.5,148.9 L647.5,149.6 L647.6,150.3 L647.6,150.9 L647.6,151.6 L647.6,152.3 L647.6,152.9 L647.6,153.6 L647.7,154.3 L647.7,154.9 L647.7,155.6 L647.7,156.3 L647.7,156.9 L647.7,157.6 L647.7,158.3 L647.7,159.0 L647.8,159.6 L647.8,160.3 L647.8,161.0 L647.8,161.6 L647.8,162.3 L647.8,163.0 L647.8,163.6 L647.9,164.3 L647.9,165.0 L647.9,165.6 L647.9,166.3 L647.9,167.0 L647.9,167.6 L647.9,168.3 L648.0,169.0 L648.0,169.6 L648.0,170.3 L648.0,171.0 L648.0,171.6 L648.0,172.3 L648.0,173.0 L648.0,173.6 L648.1,174.3 L648.1,175.0 L648.1,175.6 L648.1,176.3 L648.1,177.0 L648.1,177.6 L648.1,178.3 L648.2,179.0 L648.2,179.6 L648.2,180.3 L648.2,181.0 L648.2,181.6 L648.2,182.3 L648.2,183.0 L648.2,183.6 L648.3,184.3 L648.3,185.0 L648.3,185.6 L648.3,186.3 L648.3,187.0 L648.3,187.7 L648.3,188.3 L648.4,189.0 L648.4,189.7 L648.4,190.3 L648.4,191.0 L648.4,191.7 L648.4,192.3 L648.4,193.0 L648.4,193.7 L648.5,194.3 L648.5,195.0 L648.5,195.7 L648.5,196.3 L648.5,197.0 L648.5,197.7 L648.5,198.3 L648.6,199.0 L648.6,199.7 L648.6,200.3 L648.6,201.0 L648.6,201.7 L648.6,202.3 L648.6,203.0 L648.7,203.7 L648.7,204.3 L648.7,205.0 L648.7,205.7 L648.7,206.3 L648.7,207.0 L648.7,207.7 L648.8,208.3 L648.8,209.0 L648.8,209.7 L648.8,210.3 L648.8,211.0 L648.8,211.7 L648.8,212.3 L648.9,213.0 L648.9,213.7 L648.9,214.3 L648.9,215.0 L648.9,215.7 L648.9,216.3 L649.0,217.0 L649.0,217.7 L649.0,218.3 L649.0,219.0 L649.0,219.7 L649.0,220.4 L649.0,221.0 L649.1,221.7 L649.1,222.4 L649.1,223.0 L649.1,223.7 L649.1,224.4 L649.1,225.0 L649.2,225.7 L649.2,226.4 L649.2,227.0 L649.2,227.7 L649.2,228.4 L649.2,229.0 L649.3,229.7 L649.3,230.4 L649.3,231.0 L649.3,231.7 L649.3,232.4 L649.4,233.0 L649.4,233.7 L649.4,234.4 L649.4,235.0 L649.4,235.7 L649.4,236.4 L649.5,237.0 L649.5,237.7 L649.5,238.4 L649.5,239.0 L649.5,239.7 L649.6,240.4 L649.6,241.0 L649.6,241.7 L672.0,241.7" fill="none" stroke="#ff00ff" stroke-width="1.85" stroke-linejoin="round" stroke-linecap="round"/>
</g>
<text transform="translate(72.80,55.10) scale(0.860,1)" style="font-family:'Liberation Sans',sans-serif;font-weight:bold;font-style:italic;fill:#0000ff;font-size:8.30px">w</text>
<text transform="translate(79.00,58.90) scale(0.950,1)" style="font-family:'Liberation Sans',sans-serif;font-weight:bold;font-style:italic;fill:#0000ff;font-size:6.50px">3</text>
<text transform="translate(85.30,55.30) scale(0.850,1)" style="font-family:'Liberation Sans',sans-serif;font-weight:bold;font-style:italic;fill:#0000ff;font-size:8.30px">=</text>
<text transform="translate(91.70,55.10) scale(1.000,1)" style="font-family:'Liberation Sans',sans-serif;font-weight:bold;font-style:italic;fill:#0000ff;font-size:8.30px">5</text>
<text transform="translate(198.30,87.50) scale(0.860,1)" style="font-family:'Liberation Sans',sans-serif;font-weight:bold;font-style:italic;fill:#00ff00;font-size:8.30px">w</text>
<text transform="translate(204.20,91.90) scale(0.950,1)" style="font-family:'Liberation Sans',sans-serif;font-weight:bold;font-style:italic;fill:#00ff00;font-size:6.50px">3</text>
<text transform="translate(209.80,88.30) scale(0.850,1)" style="font-family:'Liberation Sans',sans-serif;font-weight:bold;font-style:italic;fill:#00ff00;font-size:8.30px">=</text>
<text transform="translate(218.20,87.50) scale(1.000,1)" style="font-family:'Liberation Sans',sans-serif;font-weight:bold;font-style:italic;fill:#00ff00;font-size:8.30px">10</text>
<text transform="translate(146.00,206.60) scale(0.860,1)" style="font-family:'Liberation Sans',sans-serif;font-weight:bold;font-style:italic;fill:#ff0000;font-size:8.30px">w</text>
<text transform="translate(152.00,211.40) scale(0.950,1)" style="font-family:'Liberation Sans',sans-serif;font-weight:bold;font-style:italic;fill:#ff0000;font-size:6.50px">3</text>
<text transform="translate(158.00,207.30) scale(0.850,1)" style="font-family:'Liberation Sans',sans-serif;font-weight:bold;font-style:italic;fill:#ff0000;font-size:8.30px">=</text>
<text transform="translate(164.40,206.60) scale(1.000,1)" style="font-family:'Liberation Sans',sans-serif;font-weight:bold;font-style:italic;fill:#ff0000;font-size:8.30px">50</text>
<text transform="translate(227.80,232.10) scale(0.860,1)" style="font-family:'Liberation Sans',sans-serif;font-weight:bold;font-style:italic;fill:#ff00ff;font-size:8.30px">w</text>
<text transform="translate(233.50,236.50) scale(0.950,1)" style="font-family:'Liberation Sans',sans-serif;font-weight:bold;font-style:italic;fill:#ff00ff;font-size:6.50px">3</text>
<text transform="translate(239.80,232.60) scale(0.850,1)" style="font-family:'Liberation Sans',sans-serif;font-weight:bold;font-style:italic;fill:#ff00ff;font-size:8.30px">=</text>
<text transform="translate(246.20,232.10) scale(1.000,1)" style="font-family:'Liberation Sans',sans-serif;font-weight:bold;font-style:italic;fill:#ff00ff;font-size:8.30px">500</text>
<text transform="translate(445.50,64.10) scale(0.860,1)" style="font-family:'Liberation Sans',sans-serif;font-weight:bold;font-style:italic;fill:#ff00ff;font-size:8.30px">w</text>
<text transform="translate(451.90,68.60) scale(0.950,1)" style="font-family:'Liberation Sans',sans-serif;font-weight:bold;font-style:italic;fill:#ff00ff;font-size:6.50px">3</text>
<text transform="translate(459.00,65.00) scale(0.850,1)" style="font-family:'Liberation Sans',sans-serif;font-weight:bold;font-style:italic;fill:#ff00ff;font-size:8.30px">=</text>
<text transform="translate(466.00,64.10) scale(1.000,1)" style="font-family:'Liberation Sans',sans-serif;font-weight:bold;font-style:italic;fill:#ff00ff;font-size:8.30px">500</text>
<text transform="translate(552.20,42.10) scale(0.860,1)" style="font-family:'Liberation Sans',sans-serif;font-weight:bold;font-style:italic;fill:#ff0000;font-size:8.30px">w</text>
<text transform="translate(558.50,46.60) scale(0.950,1)" style="font-family:'Liberation Sans',sans-serif;font-weight:bold;font-style:italic;fill:#ff0000;font-size:6.50px">3</text>
<text transform="translate(565.00,43.00) scale(0.850,1)" style="font-family:'Liberation Sans',sans-serif;font-weight:bold;font-style:italic;fill:#ff0000;font-size:8.30px">=</text>
<text transform="translate(572.60,42.10) scale(1.000,1)" style="font-family:'Liberation Sans',sans-serif;font-weight:bold;font-style:italic;fill:#ff0000;font-size:8.30px">50</text>
<text transform="translate(532.80,150.40) scale(0.860,1)" style="font-family:'Liberation Sans',sans-serif;font-weight:bold;font-style:italic;fill:#00ff00;font-size:8.30px">w</text>
<text transform="translate(539.00,154.20) scale(0.950,1)" style="font-family:'Liberation Sans',sans-serif;font-weight:bold;font-style:italic;fill:#00ff00;font-size:6.50px">3</text>
<text transform="translate(545.50,150.60) scale(0.850,1)" style="font-family:'Liberation Sans',sans-serif;font-weight:bold;font-style:italic;fill:#00ff00;font-size:8.30px">=</text>
<text transform="translate(553.60,150.40) scale(1.000,1)" style="font-family:'Liberation Sans',sans-serif;font-weight:bold;font-style:italic;fill:#00ff00;font-size:8.30px">10</text>
<text transform="translate(469.00,217.60) scale(0.860,1)" style="font-family:'Liberation Sans',sans-serif;font-weight:bold;font-style:italic;fill:#0000ff;font-size:8.30px">w</text>
<text transform="translate(475.30,222.10) scale(0.950,1)" style="font-family:'Liberation Sans',sans-serif;font-weight:bold;font-style:italic;fill:#0000ff;font-size:6.50px">3</text>
<text transform="translate(481.90,217.70) scale(0.850,1)" style="font-family:'Liberation Sans',sans-serif;font-weight:bold;font-style:italic;fill:#0000ff;font-size:8.30px">=</text>
<text transform="translate(489.00,217.60) scale(1.000,1)" style="font-family:'Liberation Sans',sans-serif;font-weight:bold;font-style:italic;fill:#0000ff;font-size:8.30px">5</text>
<text x="173.3" y="262.3" text-anchor="middle" class="ax" font-size="8px">t</text>
<text x="531.3" y="262.3" text-anchor="middle" class="ax" font-size="8px">t</text>
<g transform="translate(10.10,128.20) rotate(-90)"><text x="0" y="0" class="ax" font-size="8.5px">u<tspan dy="4.0" font-size="6.4px">1</tspan><tspan dx="-3.56" dy="-8.3" font-size="6.4px">*</tspan></text></g>
<g transform="translate(363.60,127.80) rotate(-90)"><text x="0" y="0" class="ax" font-size="8.5px">u<tspan dy="4.0" font-size="6.4px">2</tspan><tspan dx="-3.56" dy="-8.3" font-size="6.4px">*</tspan></text></g>
<text x="174.3" y="280.6" text-anchor="middle" class="pl">(a)</text>
<text x="533.6" y="280.6" text-anchor="middle" class="pl">(b)</text>
</svg></body></html>
